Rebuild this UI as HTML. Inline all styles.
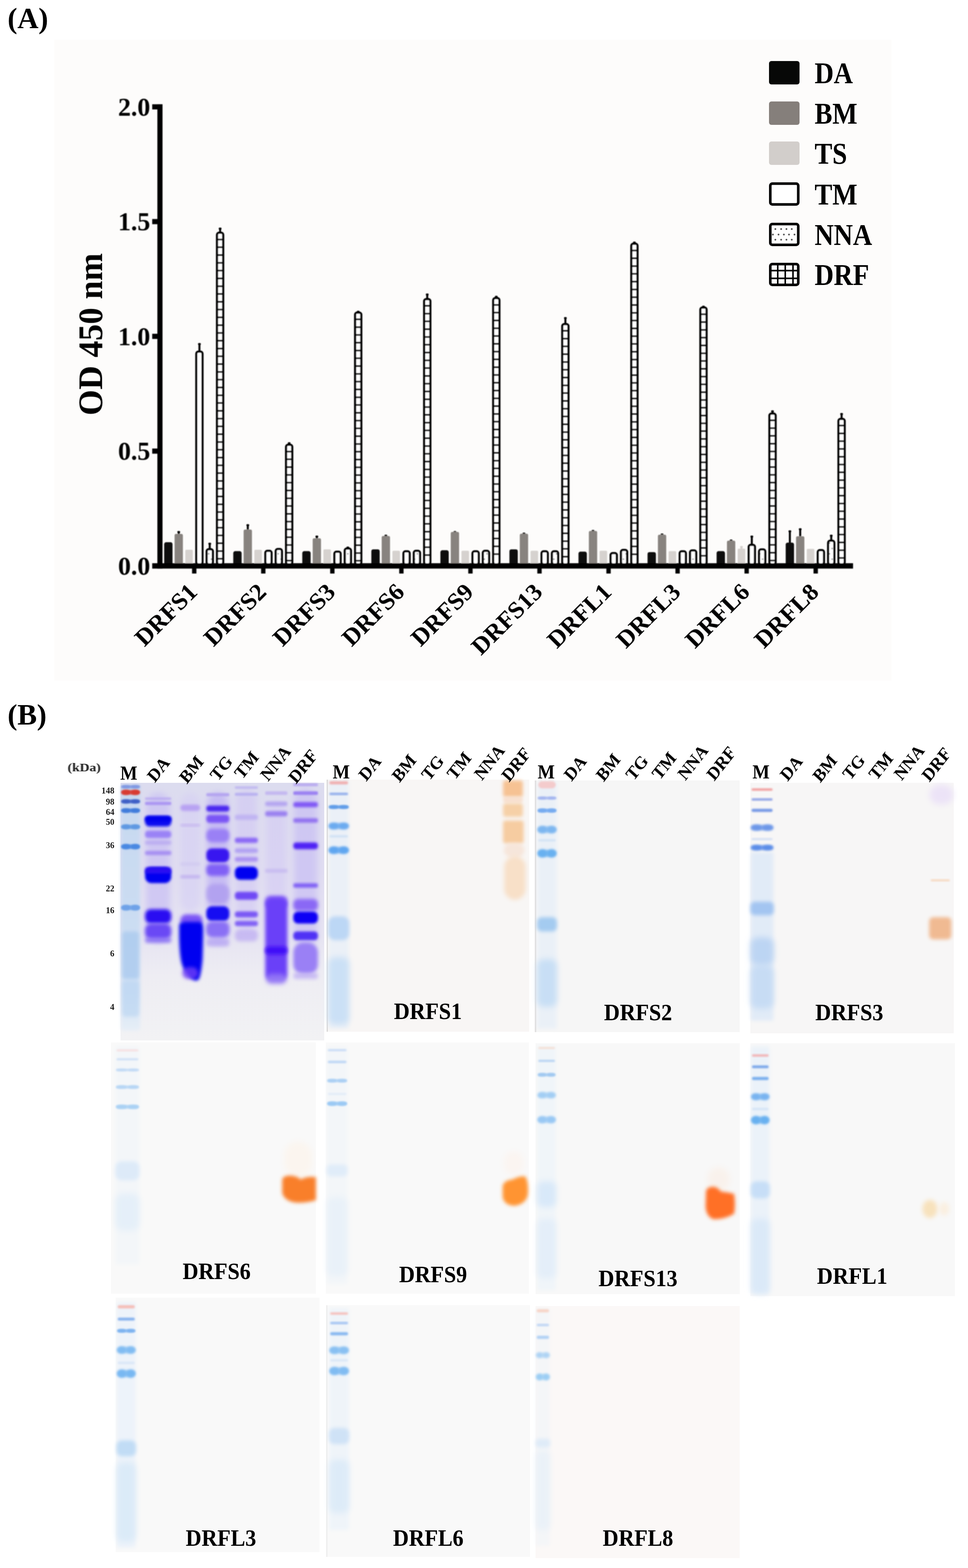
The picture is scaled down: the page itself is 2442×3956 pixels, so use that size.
<!DOCTYPE html>
<html><head><meta charset="utf-8"><title>Figure</title>
<style>html,body{margin:0;padding:0;background:#fff;} svg text{filter:url(#tsoft);} body{width:2442px;height:3956px;position:relative;overflow:hidden;}</style>
</head><body>
<svg width="2442" height="3956" viewBox="0 0 2442 3956" style="position:absolute;left:0;top:0">
<defs>
<filter id="soft" x="-5%" y="-5%" width="110%" height="110%"><feGaussianBlur stdDeviation="0.9"/></filter>
<filter id="tsoft" x="-20%" y="-20%" width="140%" height="140%"><feGaussianBlur stdDeviation="0.75"/></filter>
<pattern id="dots" width="13.5" height="27" patternUnits="userSpaceOnUse"><rect width="13.5" height="27" fill="#fff"/><circle cx="6.75" cy="6.75" r="1.8" fill="#777"/><circle cx="0" cy="20.25" r="1.8" fill="#777"/><circle cx="13.5" cy="20.25" r="1.8" fill="#777"/></pattern>
</defs>
<rect x="137" y="100" width="2112" height="1617" fill="#fdfcfb"/>
<g filter="url(#soft)">
<rect x="414.2" y="1368.0" width="21.0" height="59.0" rx="5" fill="#080808"/>
<rect x="448.4" y="1340.8" width="5" height="10.4" fill="#000"/>
<rect x="447.4" y="1339.8" width="7" height="5" rx="2" fill="#000"/>
<rect x="440.4" y="1347.1" width="21.0" height="79.9" rx="4" fill="#88837f"/>
<rect x="467.4" y="1387.1" width="19.0" height="39.9" rx="3" fill="#d6d2cf"/>
<rect x="500.6" y="866.5" width="5" height="21.9" fill="#000"/>
<rect x="499.6" y="865.5" width="7" height="5" rx="2" fill="#000"/>
<rect x="495.3" y="887.2" width="15.5" height="536.5" rx="5" fill="#fff" stroke="#000" stroke-width="5.5"/>
<rect x="526.6" y="1370.3" width="5" height="16.7" fill="#000"/>
<rect x="525.6" y="1369.3" width="7" height="5" rx="2" fill="#000"/>
<rect x="521.4" y="1385.8" width="15.5" height="38.0" rx="5" fill="url(#dots)" stroke="#000" stroke-width="5.5"/>
<rect x="552.8" y="575.3" width="5" height="13.3" fill="#000"/>
<rect x="551.8" y="574.3" width="7" height="5" rx="2" fill="#000"/>
<rect x="547.5" y="587.3" width="15.5" height="836.4" rx="5" fill="#fff" stroke="#000" stroke-width="5.5"/>
<rect x="546.8" y="602.0" width="17.0" height="4.4" fill="#000"/>
<rect x="546.8" y="621.6" width="17.0" height="4.4" fill="#000"/>
<rect x="546.8" y="641.3" width="17.0" height="4.4" fill="#000"/>
<rect x="546.8" y="660.9" width="17.0" height="4.4" fill="#000"/>
<rect x="546.8" y="680.6" width="17.0" height="4.4" fill="#000"/>
<rect x="546.8" y="700.2" width="17.0" height="4.4" fill="#000"/>
<rect x="546.8" y="719.9" width="17.0" height="4.4" fill="#000"/>
<rect x="546.8" y="739.5" width="17.0" height="4.4" fill="#000"/>
<rect x="546.8" y="759.2" width="17.0" height="4.4" fill="#000"/>
<rect x="546.8" y="778.8" width="17.0" height="4.4" fill="#000"/>
<rect x="546.8" y="798.5" width="17.0" height="4.4" fill="#000"/>
<rect x="546.8" y="818.1" width="17.0" height="4.4" fill="#000"/>
<rect x="546.8" y="837.8" width="17.0" height="4.4" fill="#000"/>
<rect x="546.8" y="857.4" width="17.0" height="4.4" fill="#000"/>
<rect x="546.8" y="877.1" width="17.0" height="4.4" fill="#000"/>
<rect x="546.8" y="896.7" width="17.0" height="4.4" fill="#000"/>
<rect x="546.8" y="916.4" width="17.0" height="4.4" fill="#000"/>
<rect x="546.8" y="936.0" width="17.0" height="4.4" fill="#000"/>
<rect x="546.8" y="955.7" width="17.0" height="4.4" fill="#000"/>
<rect x="546.8" y="975.3" width="17.0" height="4.4" fill="#000"/>
<rect x="546.8" y="995.0" width="17.0" height="4.4" fill="#000"/>
<rect x="546.8" y="1014.6" width="17.0" height="4.4" fill="#000"/>
<rect x="546.8" y="1034.3" width="17.0" height="4.4" fill="#000"/>
<rect x="546.8" y="1053.9" width="17.0" height="4.4" fill="#000"/>
<rect x="546.8" y="1073.6" width="17.0" height="4.4" fill="#000"/>
<rect x="546.8" y="1093.2" width="17.0" height="4.4" fill="#000"/>
<rect x="546.8" y="1112.9" width="17.0" height="4.4" fill="#000"/>
<rect x="546.8" y="1132.5" width="17.0" height="4.4" fill="#000"/>
<rect x="546.8" y="1152.2" width="17.0" height="4.4" fill="#000"/>
<rect x="546.8" y="1171.8" width="17.0" height="4.4" fill="#000"/>
<rect x="546.8" y="1191.5" width="17.0" height="4.4" fill="#000"/>
<rect x="546.8" y="1211.1" width="17.0" height="4.4" fill="#000"/>
<rect x="546.8" y="1230.8" width="17.0" height="4.4" fill="#000"/>
<rect x="546.8" y="1250.4" width="17.0" height="4.4" fill="#000"/>
<rect x="546.8" y="1270.1" width="17.0" height="4.4" fill="#000"/>
<rect x="546.8" y="1289.7" width="17.0" height="4.4" fill="#000"/>
<rect x="546.8" y="1309.4" width="17.0" height="4.4" fill="#000"/>
<rect x="546.8" y="1329.0" width="17.0" height="4.4" fill="#000"/>
<rect x="546.8" y="1348.7" width="17.0" height="4.4" fill="#000"/>
<rect x="546.8" y="1368.3" width="17.0" height="4.4" fill="#000"/>
<rect x="546.8" y="1388.0" width="17.0" height="4.4" fill="#000"/>
<rect x="546.8" y="1407.6" width="17.0" height="4.4" fill="#000"/>
<rect x="588.5" y="1390.5" width="21.0" height="36.5" rx="5" fill="#080808"/>
<rect x="622.6" y="1323.4" width="5" height="16.7" fill="#000"/>
<rect x="621.6" y="1322.4" width="7" height="5" rx="2" fill="#000"/>
<rect x="614.6" y="1336.1" width="21.0" height="90.9" rx="4" fill="#88837f"/>
<rect x="641.7" y="1387.1" width="19.0" height="39.9" rx="3" fill="#d6d2cf"/>
<rect x="669.5" y="1389.8" width="15.5" height="33.9" rx="5" fill="#fff" stroke="#000" stroke-width="5.5"/>
<rect x="695.6" y="1385.2" width="15.5" height="38.6" rx="5" fill="url(#dots)" stroke="#000" stroke-width="5.5"/>
<rect x="727.0" y="1116.7" width="5" height="6.9" fill="#000"/>
<rect x="726.0" y="1115.7" width="7" height="5" rx="2" fill="#000"/>
<rect x="721.7" y="1122.3" width="15.5" height="301.4" rx="5" fill="#fff" stroke="#000" stroke-width="5.5"/>
<rect x="721.0" y="1137.0" width="17.0" height="4.4" fill="#000"/>
<rect x="721.0" y="1156.6" width="17.0" height="4.4" fill="#000"/>
<rect x="721.0" y="1176.3" width="17.0" height="4.4" fill="#000"/>
<rect x="721.0" y="1195.9" width="17.0" height="4.4" fill="#000"/>
<rect x="721.0" y="1215.6" width="17.0" height="4.4" fill="#000"/>
<rect x="721.0" y="1235.2" width="17.0" height="4.4" fill="#000"/>
<rect x="721.0" y="1254.9" width="17.0" height="4.4" fill="#000"/>
<rect x="721.0" y="1274.5" width="17.0" height="4.4" fill="#000"/>
<rect x="721.0" y="1294.2" width="17.0" height="4.4" fill="#000"/>
<rect x="721.0" y="1313.8" width="17.0" height="4.4" fill="#000"/>
<rect x="721.0" y="1333.5" width="17.0" height="4.4" fill="#000"/>
<rect x="721.0" y="1353.1" width="17.0" height="4.4" fill="#000"/>
<rect x="721.0" y="1372.8" width="17.0" height="4.4" fill="#000"/>
<rect x="721.0" y="1392.4" width="17.0" height="4.4" fill="#000"/>
<rect x="721.0" y="1412.1" width="17.0" height="4.4" fill="#000"/>
<rect x="762.6" y="1390.5" width="21.0" height="36.5" rx="5" fill="#080808"/>
<rect x="796.8" y="1352.3" width="5" height="9.8" fill="#000"/>
<rect x="795.8" y="1351.3" width="7" height="5" rx="2" fill="#000"/>
<rect x="788.8" y="1358.1" width="21.0" height="68.9" rx="4" fill="#88837f"/>
<rect x="815.9" y="1385.9" width="19.0" height="41.1" rx="3" fill="#d6d2cf"/>
<rect x="843.7" y="1392.1" width="15.5" height="31.6" rx="5" fill="#fff" stroke="#000" stroke-width="5.5"/>
<rect x="875.0" y="1380.1" width="5" height="5.2" fill="#000"/>
<rect x="874.0" y="1379.1" width="7" height="5" rx="2" fill="#000"/>
<rect x="869.8" y="1384.0" width="15.5" height="39.7" rx="5" fill="url(#dots)" stroke="#000" stroke-width="5.5"/>
<rect x="901.1" y="784.9" width="5" height="5.2" fill="#000"/>
<rect x="900.1" y="783.9" width="7" height="5" rx="2" fill="#000"/>
<rect x="895.9" y="788.8" width="15.5" height="634.9" rx="5" fill="#fff" stroke="#000" stroke-width="5.5"/>
<rect x="895.1" y="803.5" width="17.0" height="4.4" fill="#000"/>
<rect x="895.1" y="823.1" width="17.0" height="4.4" fill="#000"/>
<rect x="895.1" y="842.8" width="17.0" height="4.4" fill="#000"/>
<rect x="895.1" y="862.4" width="17.0" height="4.4" fill="#000"/>
<rect x="895.1" y="882.1" width="17.0" height="4.4" fill="#000"/>
<rect x="895.1" y="901.7" width="17.0" height="4.4" fill="#000"/>
<rect x="895.1" y="921.4" width="17.0" height="4.4" fill="#000"/>
<rect x="895.1" y="941.0" width="17.0" height="4.4" fill="#000"/>
<rect x="895.1" y="960.7" width="17.0" height="4.4" fill="#000"/>
<rect x="895.1" y="980.3" width="17.0" height="4.4" fill="#000"/>
<rect x="895.1" y="1000.0" width="17.0" height="4.4" fill="#000"/>
<rect x="895.1" y="1019.6" width="17.0" height="4.4" fill="#000"/>
<rect x="895.1" y="1039.3" width="17.0" height="4.4" fill="#000"/>
<rect x="895.1" y="1058.9" width="17.0" height="4.4" fill="#000"/>
<rect x="895.1" y="1078.6" width="17.0" height="4.4" fill="#000"/>
<rect x="895.1" y="1098.2" width="17.0" height="4.4" fill="#000"/>
<rect x="895.1" y="1117.9" width="17.0" height="4.4" fill="#000"/>
<rect x="895.1" y="1137.5" width="17.0" height="4.4" fill="#000"/>
<rect x="895.1" y="1157.2" width="17.0" height="4.4" fill="#000"/>
<rect x="895.1" y="1176.8" width="17.0" height="4.4" fill="#000"/>
<rect x="895.1" y="1196.5" width="17.0" height="4.4" fill="#000"/>
<rect x="895.1" y="1216.1" width="17.0" height="4.4" fill="#000"/>
<rect x="895.1" y="1235.8" width="17.0" height="4.4" fill="#000"/>
<rect x="895.1" y="1255.4" width="17.0" height="4.4" fill="#000"/>
<rect x="895.1" y="1275.1" width="17.0" height="4.4" fill="#000"/>
<rect x="895.1" y="1294.7" width="17.0" height="4.4" fill="#000"/>
<rect x="895.1" y="1314.4" width="17.0" height="4.4" fill="#000"/>
<rect x="895.1" y="1334.0" width="17.0" height="4.4" fill="#000"/>
<rect x="895.1" y="1353.7" width="17.0" height="4.4" fill="#000"/>
<rect x="895.1" y="1373.3" width="17.0" height="4.4" fill="#000"/>
<rect x="895.1" y="1393.0" width="17.0" height="4.4" fill="#000"/>
<rect x="895.1" y="1412.6" width="17.0" height="4.4" fill="#000"/>
<rect x="936.8" y="1385.9" width="21.0" height="41.1" rx="5" fill="#080808"/>
<rect x="970.9" y="1350.0" width="5" height="6.3" fill="#000"/>
<rect x="969.9" y="1349.0" width="7" height="5" rx="2" fill="#000"/>
<rect x="962.9" y="1352.3" width="21.0" height="74.7" rx="4" fill="#88837f"/>
<rect x="990.0" y="1389.4" width="19.0" height="37.6" rx="3" fill="#d6d2cf"/>
<rect x="1017.9" y="1391.0" width="15.5" height="32.8" rx="5" fill="#fff" stroke="#000" stroke-width="5.5"/>
<rect x="1044.0" y="1389.8" width="15.5" height="33.9" rx="5" fill="url(#dots)" stroke="#000" stroke-width="5.5"/>
<rect x="1075.3" y="741.5" width="5" height="14.4" fill="#000"/>
<rect x="1074.3" y="740.5" width="7" height="5" rx="2" fill="#000"/>
<rect x="1070.1" y="754.7" width="15.5" height="669.1" rx="5" fill="#fff" stroke="#000" stroke-width="5.5"/>
<rect x="1069.3" y="769.3" width="17.0" height="4.4" fill="#000"/>
<rect x="1069.3" y="789.0" width="17.0" height="4.4" fill="#000"/>
<rect x="1069.3" y="808.6" width="17.0" height="4.4" fill="#000"/>
<rect x="1069.3" y="828.3" width="17.0" height="4.4" fill="#000"/>
<rect x="1069.3" y="847.9" width="17.0" height="4.4" fill="#000"/>
<rect x="1069.3" y="867.6" width="17.0" height="4.4" fill="#000"/>
<rect x="1069.3" y="887.2" width="17.0" height="4.4" fill="#000"/>
<rect x="1069.3" y="906.9" width="17.0" height="4.4" fill="#000"/>
<rect x="1069.3" y="926.5" width="17.0" height="4.4" fill="#000"/>
<rect x="1069.3" y="946.2" width="17.0" height="4.4" fill="#000"/>
<rect x="1069.3" y="965.8" width="17.0" height="4.4" fill="#000"/>
<rect x="1069.3" y="985.5" width="17.0" height="4.4" fill="#000"/>
<rect x="1069.3" y="1005.1" width="17.0" height="4.4" fill="#000"/>
<rect x="1069.3" y="1024.8" width="17.0" height="4.4" fill="#000"/>
<rect x="1069.3" y="1044.4" width="17.0" height="4.4" fill="#000"/>
<rect x="1069.3" y="1064.1" width="17.0" height="4.4" fill="#000"/>
<rect x="1069.3" y="1083.7" width="17.0" height="4.4" fill="#000"/>
<rect x="1069.3" y="1103.4" width="17.0" height="4.4" fill="#000"/>
<rect x="1069.3" y="1123.0" width="17.0" height="4.4" fill="#000"/>
<rect x="1069.3" y="1142.7" width="17.0" height="4.4" fill="#000"/>
<rect x="1069.3" y="1162.3" width="17.0" height="4.4" fill="#000"/>
<rect x="1069.3" y="1182.0" width="17.0" height="4.4" fill="#000"/>
<rect x="1069.3" y="1201.6" width="17.0" height="4.4" fill="#000"/>
<rect x="1069.3" y="1221.3" width="17.0" height="4.4" fill="#000"/>
<rect x="1069.3" y="1240.9" width="17.0" height="4.4" fill="#000"/>
<rect x="1069.3" y="1260.6" width="17.0" height="4.4" fill="#000"/>
<rect x="1069.3" y="1280.2" width="17.0" height="4.4" fill="#000"/>
<rect x="1069.3" y="1299.9" width="17.0" height="4.4" fill="#000"/>
<rect x="1069.3" y="1319.5" width="17.0" height="4.4" fill="#000"/>
<rect x="1069.3" y="1339.2" width="17.0" height="4.4" fill="#000"/>
<rect x="1069.3" y="1358.8" width="17.0" height="4.4" fill="#000"/>
<rect x="1069.3" y="1378.5" width="17.0" height="4.4" fill="#000"/>
<rect x="1069.3" y="1398.1" width="17.0" height="4.4" fill="#000"/>
<rect x="1111.0" y="1388.2" width="21.0" height="38.8" rx="5" fill="#080808"/>
<rect x="1145.1" y="1340.8" width="5" height="5.2" fill="#000"/>
<rect x="1144.1" y="1339.8" width="7" height="5" rx="2" fill="#000"/>
<rect x="1137.1" y="1341.9" width="21.0" height="85.1" rx="4" fill="#88837f"/>
<rect x="1164.2" y="1389.4" width="19.0" height="37.6" rx="3" fill="#d6d2cf"/>
<rect x="1192.1" y="1391.0" width="15.5" height="32.8" rx="5" fill="#fff" stroke="#000" stroke-width="5.5"/>
<rect x="1218.2" y="1389.8" width="15.5" height="33.9" rx="5" fill="url(#dots)" stroke="#000" stroke-width="5.5"/>
<rect x="1249.5" y="747.3" width="5" height="6.3" fill="#000"/>
<rect x="1248.5" y="746.3" width="7" height="5" rx="2" fill="#000"/>
<rect x="1244.3" y="752.3" width="15.5" height="671.4" rx="5" fill="#fff" stroke="#000" stroke-width="5.5"/>
<rect x="1243.5" y="767.0" width="17.0" height="4.4" fill="#000"/>
<rect x="1243.5" y="786.6" width="17.0" height="4.4" fill="#000"/>
<rect x="1243.5" y="806.3" width="17.0" height="4.4" fill="#000"/>
<rect x="1243.5" y="825.9" width="17.0" height="4.4" fill="#000"/>
<rect x="1243.5" y="845.6" width="17.0" height="4.4" fill="#000"/>
<rect x="1243.5" y="865.2" width="17.0" height="4.4" fill="#000"/>
<rect x="1243.5" y="884.9" width="17.0" height="4.4" fill="#000"/>
<rect x="1243.5" y="904.5" width="17.0" height="4.4" fill="#000"/>
<rect x="1243.5" y="924.2" width="17.0" height="4.4" fill="#000"/>
<rect x="1243.5" y="943.8" width="17.0" height="4.4" fill="#000"/>
<rect x="1243.5" y="963.5" width="17.0" height="4.4" fill="#000"/>
<rect x="1243.5" y="983.1" width="17.0" height="4.4" fill="#000"/>
<rect x="1243.5" y="1002.8" width="17.0" height="4.4" fill="#000"/>
<rect x="1243.5" y="1022.4" width="17.0" height="4.4" fill="#000"/>
<rect x="1243.5" y="1042.1" width="17.0" height="4.4" fill="#000"/>
<rect x="1243.5" y="1061.7" width="17.0" height="4.4" fill="#000"/>
<rect x="1243.5" y="1081.4" width="17.0" height="4.4" fill="#000"/>
<rect x="1243.5" y="1101.0" width="17.0" height="4.4" fill="#000"/>
<rect x="1243.5" y="1120.7" width="17.0" height="4.4" fill="#000"/>
<rect x="1243.5" y="1140.3" width="17.0" height="4.4" fill="#000"/>
<rect x="1243.5" y="1160.0" width="17.0" height="4.4" fill="#000"/>
<rect x="1243.5" y="1179.6" width="17.0" height="4.4" fill="#000"/>
<rect x="1243.5" y="1199.3" width="17.0" height="4.4" fill="#000"/>
<rect x="1243.5" y="1218.9" width="17.0" height="4.4" fill="#000"/>
<rect x="1243.5" y="1238.6" width="17.0" height="4.4" fill="#000"/>
<rect x="1243.5" y="1258.2" width="17.0" height="4.4" fill="#000"/>
<rect x="1243.5" y="1277.9" width="17.0" height="4.4" fill="#000"/>
<rect x="1243.5" y="1297.5" width="17.0" height="4.4" fill="#000"/>
<rect x="1243.5" y="1317.2" width="17.0" height="4.4" fill="#000"/>
<rect x="1243.5" y="1336.8" width="17.0" height="4.4" fill="#000"/>
<rect x="1243.5" y="1356.5" width="17.0" height="4.4" fill="#000"/>
<rect x="1243.5" y="1376.1" width="17.0" height="4.4" fill="#000"/>
<rect x="1243.5" y="1395.8" width="17.0" height="4.4" fill="#000"/>
<rect x="1285.2" y="1385.9" width="21.0" height="41.1" rx="5" fill="#080808"/>
<rect x="1319.3" y="1344.8" width="5" height="5.7" fill="#000"/>
<rect x="1318.3" y="1343.8" width="7" height="5" rx="2" fill="#000"/>
<rect x="1311.3" y="1346.5" width="21.0" height="80.5" rx="4" fill="#88837f"/>
<rect x="1338.5" y="1389.4" width="19.0" height="37.6" rx="3" fill="#d6d2cf"/>
<rect x="1366.3" y="1391.0" width="15.5" height="32.8" rx="5" fill="#fff" stroke="#000" stroke-width="5.5"/>
<rect x="1392.4" y="1391.0" width="15.5" height="32.8" rx="5" fill="url(#dots)" stroke="#000" stroke-width="5.5"/>
<rect x="1423.8" y="801.1" width="5" height="17.9" fill="#000"/>
<rect x="1422.8" y="800.1" width="7" height="5" rx="2" fill="#000"/>
<rect x="1418.5" y="817.8" width="15.5" height="606.0" rx="5" fill="#fff" stroke="#000" stroke-width="5.5"/>
<rect x="1417.8" y="832.4" width="17.0" height="4.4" fill="#000"/>
<rect x="1417.8" y="852.1" width="17.0" height="4.4" fill="#000"/>
<rect x="1417.8" y="871.7" width="17.0" height="4.4" fill="#000"/>
<rect x="1417.8" y="891.4" width="17.0" height="4.4" fill="#000"/>
<rect x="1417.8" y="911.0" width="17.0" height="4.4" fill="#000"/>
<rect x="1417.8" y="930.7" width="17.0" height="4.4" fill="#000"/>
<rect x="1417.8" y="950.3" width="17.0" height="4.4" fill="#000"/>
<rect x="1417.8" y="970.0" width="17.0" height="4.4" fill="#000"/>
<rect x="1417.8" y="989.6" width="17.0" height="4.4" fill="#000"/>
<rect x="1417.8" y="1009.3" width="17.0" height="4.4" fill="#000"/>
<rect x="1417.8" y="1028.9" width="17.0" height="4.4" fill="#000"/>
<rect x="1417.8" y="1048.6" width="17.0" height="4.4" fill="#000"/>
<rect x="1417.8" y="1068.2" width="17.0" height="4.4" fill="#000"/>
<rect x="1417.8" y="1087.9" width="17.0" height="4.4" fill="#000"/>
<rect x="1417.8" y="1107.5" width="17.0" height="4.4" fill="#000"/>
<rect x="1417.8" y="1127.2" width="17.0" height="4.4" fill="#000"/>
<rect x="1417.8" y="1146.8" width="17.0" height="4.4" fill="#000"/>
<rect x="1417.8" y="1166.5" width="17.0" height="4.4" fill="#000"/>
<rect x="1417.8" y="1186.1" width="17.0" height="4.4" fill="#000"/>
<rect x="1417.8" y="1205.8" width="17.0" height="4.4" fill="#000"/>
<rect x="1417.8" y="1225.4" width="17.0" height="4.4" fill="#000"/>
<rect x="1417.8" y="1245.1" width="17.0" height="4.4" fill="#000"/>
<rect x="1417.8" y="1264.7" width="17.0" height="4.4" fill="#000"/>
<rect x="1417.8" y="1284.4" width="17.0" height="4.4" fill="#000"/>
<rect x="1417.8" y="1304.0" width="17.0" height="4.4" fill="#000"/>
<rect x="1417.8" y="1323.7" width="17.0" height="4.4" fill="#000"/>
<rect x="1417.8" y="1343.3" width="17.0" height="4.4" fill="#000"/>
<rect x="1417.8" y="1363.0" width="17.0" height="4.4" fill="#000"/>
<rect x="1417.8" y="1382.6" width="17.0" height="4.4" fill="#000"/>
<rect x="1417.8" y="1402.3" width="17.0" height="4.4" fill="#000"/>
<rect x="1459.4" y="1391.7" width="21.0" height="35.3" rx="5" fill="#080808"/>
<rect x="1493.5" y="1337.9" width="5" height="5.7" fill="#000"/>
<rect x="1492.5" y="1336.9" width="7" height="5" rx="2" fill="#000"/>
<rect x="1485.5" y="1339.6" width="21.0" height="87.4" rx="4" fill="#88837f"/>
<rect x="1512.6" y="1389.4" width="19.0" height="37.6" rx="3" fill="#d6d2cf"/>
<rect x="1540.5" y="1395.6" width="15.5" height="28.1" rx="5" fill="#fff" stroke="#000" stroke-width="5.5"/>
<rect x="1566.6" y="1387.5" width="15.5" height="36.2" rx="5" fill="url(#dots)" stroke="#000" stroke-width="5.5"/>
<rect x="1597.9" y="610.6" width="5" height="5.7" fill="#000"/>
<rect x="1596.9" y="609.6" width="7" height="5" rx="2" fill="#000"/>
<rect x="1592.7" y="615.1" width="15.5" height="808.6" rx="5" fill="#fff" stroke="#000" stroke-width="5.5"/>
<rect x="1591.9" y="629.8" width="17.0" height="4.4" fill="#000"/>
<rect x="1591.9" y="649.4" width="17.0" height="4.4" fill="#000"/>
<rect x="1591.9" y="669.1" width="17.0" height="4.4" fill="#000"/>
<rect x="1591.9" y="688.7" width="17.0" height="4.4" fill="#000"/>
<rect x="1591.9" y="708.4" width="17.0" height="4.4" fill="#000"/>
<rect x="1591.9" y="728.0" width="17.0" height="4.4" fill="#000"/>
<rect x="1591.9" y="747.7" width="17.0" height="4.4" fill="#000"/>
<rect x="1591.9" y="767.3" width="17.0" height="4.4" fill="#000"/>
<rect x="1591.9" y="787.0" width="17.0" height="4.4" fill="#000"/>
<rect x="1591.9" y="806.6" width="17.0" height="4.4" fill="#000"/>
<rect x="1591.9" y="826.3" width="17.0" height="4.4" fill="#000"/>
<rect x="1591.9" y="845.9" width="17.0" height="4.4" fill="#000"/>
<rect x="1591.9" y="865.6" width="17.0" height="4.4" fill="#000"/>
<rect x="1591.9" y="885.2" width="17.0" height="4.4" fill="#000"/>
<rect x="1591.9" y="904.9" width="17.0" height="4.4" fill="#000"/>
<rect x="1591.9" y="924.5" width="17.0" height="4.4" fill="#000"/>
<rect x="1591.9" y="944.2" width="17.0" height="4.4" fill="#000"/>
<rect x="1591.9" y="963.8" width="17.0" height="4.4" fill="#000"/>
<rect x="1591.9" y="983.5" width="17.0" height="4.4" fill="#000"/>
<rect x="1591.9" y="1003.1" width="17.0" height="4.4" fill="#000"/>
<rect x="1591.9" y="1022.8" width="17.0" height="4.4" fill="#000"/>
<rect x="1591.9" y="1042.4" width="17.0" height="4.4" fill="#000"/>
<rect x="1591.9" y="1062.1" width="17.0" height="4.4" fill="#000"/>
<rect x="1591.9" y="1081.7" width="17.0" height="4.4" fill="#000"/>
<rect x="1591.9" y="1101.4" width="17.0" height="4.4" fill="#000"/>
<rect x="1591.9" y="1121.0" width="17.0" height="4.4" fill="#000"/>
<rect x="1591.9" y="1140.7" width="17.0" height="4.4" fill="#000"/>
<rect x="1591.9" y="1160.3" width="17.0" height="4.4" fill="#000"/>
<rect x="1591.9" y="1180.0" width="17.0" height="4.4" fill="#000"/>
<rect x="1591.9" y="1199.6" width="17.0" height="4.4" fill="#000"/>
<rect x="1591.9" y="1219.3" width="17.0" height="4.4" fill="#000"/>
<rect x="1591.9" y="1238.9" width="17.0" height="4.4" fill="#000"/>
<rect x="1591.9" y="1258.6" width="17.0" height="4.4" fill="#000"/>
<rect x="1591.9" y="1278.2" width="17.0" height="4.4" fill="#000"/>
<rect x="1591.9" y="1297.9" width="17.0" height="4.4" fill="#000"/>
<rect x="1591.9" y="1317.5" width="17.0" height="4.4" fill="#000"/>
<rect x="1591.9" y="1337.2" width="17.0" height="4.4" fill="#000"/>
<rect x="1591.9" y="1356.8" width="17.0" height="4.4" fill="#000"/>
<rect x="1591.9" y="1376.5" width="17.0" height="4.4" fill="#000"/>
<rect x="1591.9" y="1396.1" width="17.0" height="4.4" fill="#000"/>
<rect x="1633.6" y="1392.9" width="21.0" height="34.1" rx="5" fill="#080808"/>
<rect x="1667.7" y="1347.1" width="5" height="5.7" fill="#000"/>
<rect x="1666.7" y="1346.1" width="7" height="5" rx="2" fill="#000"/>
<rect x="1659.7" y="1348.9" width="21.0" height="78.1" rx="4" fill="#88837f"/>
<rect x="1686.8" y="1390.5" width="19.0" height="36.5" rx="3" fill="#d6d2cf"/>
<rect x="1714.7" y="1391.0" width="15.5" height="32.8" rx="5" fill="#fff" stroke="#000" stroke-width="5.5"/>
<rect x="1740.8" y="1388.7" width="15.5" height="35.1" rx="5" fill="url(#dots)" stroke="#000" stroke-width="5.5"/>
<rect x="1772.1" y="772.2" width="5" height="5.2" fill="#000"/>
<rect x="1771.1" y="771.2" width="7" height="5" rx="2" fill="#000"/>
<rect x="1766.9" y="776.1" width="15.5" height="647.7" rx="5" fill="#fff" stroke="#000" stroke-width="5.5"/>
<rect x="1766.1" y="790.7" width="17.0" height="4.4" fill="#000"/>
<rect x="1766.1" y="810.4" width="17.0" height="4.4" fill="#000"/>
<rect x="1766.1" y="830.0" width="17.0" height="4.4" fill="#000"/>
<rect x="1766.1" y="849.7" width="17.0" height="4.4" fill="#000"/>
<rect x="1766.1" y="869.3" width="17.0" height="4.4" fill="#000"/>
<rect x="1766.1" y="889.0" width="17.0" height="4.4" fill="#000"/>
<rect x="1766.1" y="908.6" width="17.0" height="4.4" fill="#000"/>
<rect x="1766.1" y="928.3" width="17.0" height="4.4" fill="#000"/>
<rect x="1766.1" y="947.9" width="17.0" height="4.4" fill="#000"/>
<rect x="1766.1" y="967.6" width="17.0" height="4.4" fill="#000"/>
<rect x="1766.1" y="987.2" width="17.0" height="4.4" fill="#000"/>
<rect x="1766.1" y="1006.9" width="17.0" height="4.4" fill="#000"/>
<rect x="1766.1" y="1026.5" width="17.0" height="4.4" fill="#000"/>
<rect x="1766.1" y="1046.2" width="17.0" height="4.4" fill="#000"/>
<rect x="1766.1" y="1065.8" width="17.0" height="4.4" fill="#000"/>
<rect x="1766.1" y="1085.5" width="17.0" height="4.4" fill="#000"/>
<rect x="1766.1" y="1105.1" width="17.0" height="4.4" fill="#000"/>
<rect x="1766.1" y="1124.8" width="17.0" height="4.4" fill="#000"/>
<rect x="1766.1" y="1144.4" width="17.0" height="4.4" fill="#000"/>
<rect x="1766.1" y="1164.1" width="17.0" height="4.4" fill="#000"/>
<rect x="1766.1" y="1183.7" width="17.0" height="4.4" fill="#000"/>
<rect x="1766.1" y="1203.4" width="17.0" height="4.4" fill="#000"/>
<rect x="1766.1" y="1223.0" width="17.0" height="4.4" fill="#000"/>
<rect x="1766.1" y="1242.7" width="17.0" height="4.4" fill="#000"/>
<rect x="1766.1" y="1262.3" width="17.0" height="4.4" fill="#000"/>
<rect x="1766.1" y="1282.0" width="17.0" height="4.4" fill="#000"/>
<rect x="1766.1" y="1301.6" width="17.0" height="4.4" fill="#000"/>
<rect x="1766.1" y="1321.3" width="17.0" height="4.4" fill="#000"/>
<rect x="1766.1" y="1340.9" width="17.0" height="4.4" fill="#000"/>
<rect x="1766.1" y="1360.6" width="17.0" height="4.4" fill="#000"/>
<rect x="1766.1" y="1380.2" width="17.0" height="4.4" fill="#000"/>
<rect x="1766.1" y="1399.9" width="17.0" height="4.4" fill="#000"/>
<rect x="1807.8" y="1390.5" width="21.0" height="36.5" rx="5" fill="#080808"/>
<rect x="1841.9" y="1362.2" width="5" height="5.7" fill="#000"/>
<rect x="1840.9" y="1361.2" width="7" height="5" rx="2" fill="#000"/>
<rect x="1833.9" y="1363.9" width="21.0" height="63.1" rx="4" fill="#88837f"/>
<rect x="1868.0" y="1378.4" width="5" height="9.8" fill="#d6d2cf"/>
<rect x="1867.0" y="1377.4" width="7" height="5" rx="2" fill="#d6d2cf"/>
<rect x="1861.0" y="1384.2" width="19.0" height="42.8" rx="3" fill="#d6d2cf"/>
<rect x="1894.1" y="1352.3" width="5" height="23.7" fill="#000"/>
<rect x="1893.1" y="1351.3" width="7" height="5" rx="2" fill="#000"/>
<rect x="1888.9" y="1374.8" width="15.5" height="49.0" rx="5" fill="#fff" stroke="#000" stroke-width="5.5"/>
<rect x="1915.0" y="1386.3" width="15.5" height="37.4" rx="5" fill="url(#dots)" stroke="#000" stroke-width="5.5"/>
<rect x="1946.3" y="1036.2" width="5" height="8.6" fill="#000"/>
<rect x="1945.3" y="1035.2" width="7" height="5" rx="2" fill="#000"/>
<rect x="1941.1" y="1043.6" width="15.5" height="380.2" rx="5" fill="#fff" stroke="#000" stroke-width="5.5"/>
<rect x="1940.3" y="1058.2" width="17.0" height="4.4" fill="#000"/>
<rect x="1940.3" y="1077.9" width="17.0" height="4.4" fill="#000"/>
<rect x="1940.3" y="1097.5" width="17.0" height="4.4" fill="#000"/>
<rect x="1940.3" y="1117.2" width="17.0" height="4.4" fill="#000"/>
<rect x="1940.3" y="1136.8" width="17.0" height="4.4" fill="#000"/>
<rect x="1940.3" y="1156.5" width="17.0" height="4.4" fill="#000"/>
<rect x="1940.3" y="1176.1" width="17.0" height="4.4" fill="#000"/>
<rect x="1940.3" y="1195.8" width="17.0" height="4.4" fill="#000"/>
<rect x="1940.3" y="1215.4" width="17.0" height="4.4" fill="#000"/>
<rect x="1940.3" y="1235.1" width="17.0" height="4.4" fill="#000"/>
<rect x="1940.3" y="1254.7" width="17.0" height="4.4" fill="#000"/>
<rect x="1940.3" y="1274.4" width="17.0" height="4.4" fill="#000"/>
<rect x="1940.3" y="1294.0" width="17.0" height="4.4" fill="#000"/>
<rect x="1940.3" y="1313.7" width="17.0" height="4.4" fill="#000"/>
<rect x="1940.3" y="1333.3" width="17.0" height="4.4" fill="#000"/>
<rect x="1940.3" y="1353.0" width="17.0" height="4.4" fill="#000"/>
<rect x="1940.3" y="1372.6" width="17.0" height="4.4" fill="#000"/>
<rect x="1940.3" y="1392.3" width="17.0" height="4.4" fill="#000"/>
<rect x="1940.3" y="1411.9" width="17.0" height="4.4" fill="#000"/>
<rect x="1990.1" y="1339.0" width="5" height="34.1" fill="#000"/>
<rect x="1989.1" y="1338.0" width="7" height="5" rx="2" fill="#000"/>
<rect x="1982.1" y="1369.1" width="21.0" height="57.9" rx="5" fill="#080808"/>
<rect x="2016.2" y="1333.8" width="5" height="23.1" fill="#000"/>
<rect x="2015.2" y="1332.8" width="7" height="5" rx="2" fill="#000"/>
<rect x="2008.2" y="1352.9" width="21.0" height="74.1" rx="4" fill="#88837f"/>
<rect x="2035.3" y="1384.8" width="19.0" height="42.2" rx="3" fill="#d6d2cf"/>
<rect x="2063.1" y="1388.1" width="15.5" height="35.7" rx="5" fill="#fff" stroke="#000" stroke-width="5.5"/>
<rect x="2094.5" y="1350.0" width="5" height="15.6" fill="#000"/>
<rect x="2093.5" y="1349.0" width="7" height="5" rx="2" fill="#000"/>
<rect x="2089.2" y="1364.3" width="15.5" height="59.4" rx="5" fill="url(#dots)" stroke="#000" stroke-width="5.5"/>
<rect x="2120.6" y="1043.1" width="5" height="15.0" fill="#000"/>
<rect x="2119.6" y="1042.1" width="7" height="5" rx="2" fill="#000"/>
<rect x="2115.3" y="1056.9" width="15.5" height="366.9" rx="5" fill="#fff" stroke="#000" stroke-width="5.5"/>
<rect x="2114.6" y="1071.5" width="17.0" height="4.4" fill="#000"/>
<rect x="2114.6" y="1091.2" width="17.0" height="4.4" fill="#000"/>
<rect x="2114.6" y="1110.8" width="17.0" height="4.4" fill="#000"/>
<rect x="2114.6" y="1130.5" width="17.0" height="4.4" fill="#000"/>
<rect x="2114.6" y="1150.1" width="17.0" height="4.4" fill="#000"/>
<rect x="2114.6" y="1169.8" width="17.0" height="4.4" fill="#000"/>
<rect x="2114.6" y="1189.4" width="17.0" height="4.4" fill="#000"/>
<rect x="2114.6" y="1209.1" width="17.0" height="4.4" fill="#000"/>
<rect x="2114.6" y="1228.7" width="17.0" height="4.4" fill="#000"/>
<rect x="2114.6" y="1248.4" width="17.0" height="4.4" fill="#000"/>
<rect x="2114.6" y="1268.0" width="17.0" height="4.4" fill="#000"/>
<rect x="2114.6" y="1287.7" width="17.0" height="4.4" fill="#000"/>
<rect x="2114.6" y="1307.3" width="17.0" height="4.4" fill="#000"/>
<rect x="2114.6" y="1327.0" width="17.0" height="4.4" fill="#000"/>
<rect x="2114.6" y="1346.6" width="17.0" height="4.4" fill="#000"/>
<rect x="2114.6" y="1366.3" width="17.0" height="4.4" fill="#000"/>
<rect x="2114.6" y="1385.9" width="17.0" height="4.4" fill="#000"/>
<rect x="2114.6" y="1405.6" width="17.0" height="4.4" fill="#000"/>
<rect x="397" y="263" width="13" height="1171.5" fill="#000"/>
<rect x="384" y="1421" width="1768" height="13.5" fill="#000"/>
<rect x="384" y="1421.1" width="16" height="13" fill="#000"/>
<text x="379" y="1449.6" text-anchor="end" font-family="'Liberation Serif','Times New Roman',serif" font-weight="bold" font-size="65">0.0</text>
<rect x="384" y="1131.6" width="16" height="13" fill="#000"/>
<text x="379" y="1160.1" text-anchor="end" font-family="'Liberation Serif','Times New Roman',serif" font-weight="bold" font-size="65">0.5</text>
<rect x="384" y="842.1" width="16" height="13" fill="#000"/>
<text x="379" y="870.6" text-anchor="end" font-family="'Liberation Serif','Times New Roman',serif" font-weight="bold" font-size="65">1.0</text>
<rect x="384" y="552.6" width="16" height="13" fill="#000"/>
<text x="379" y="581.1" text-anchor="end" font-family="'Liberation Serif','Times New Roman',serif" font-weight="bold" font-size="65">1.5</text>
<rect x="384" y="263.1" width="16" height="13" fill="#000"/>
<text x="379" y="291.6" text-anchor="end" font-family="'Liberation Serif','Times New Roman',serif" font-weight="bold" font-size="65">2.0</text>
<rect x="484.5" y="1430" width="11" height="17" fill="#000"/>
<rect x="658.7" y="1430" width="11" height="17" fill="#000"/>
<rect x="832.9" y="1430" width="11" height="17" fill="#000"/>
<rect x="1007.1" y="1430" width="11" height="17" fill="#000"/>
<rect x="1181.3" y="1430" width="11" height="17" fill="#000"/>
<rect x="1355.5" y="1430" width="11" height="17" fill="#000"/>
<rect x="1529.7" y="1430" width="11" height="17" fill="#000"/>
<rect x="1703.9" y="1430" width="11" height="17" fill="#000"/>
<rect x="1878.1" y="1430" width="11" height="17" fill="#000"/>
<rect x="2052.3" y="1430" width="11" height="17" fill="#000"/>
</g>
<text transform="translate(501.0,1497) rotate(-45)" text-anchor="end" font-family="'Liberation Serif','Times New Roman',serif" font-weight="bold" font-size="62">DRFS1</text>
<text transform="translate(675.2,1497) rotate(-45)" text-anchor="end" font-family="'Liberation Serif','Times New Roman',serif" font-weight="bold" font-size="62">DRFS2</text>
<text transform="translate(849.4,1497) rotate(-45)" text-anchor="end" font-family="'Liberation Serif','Times New Roman',serif" font-weight="bold" font-size="62">DRFS3</text>
<text transform="translate(1023.6,1497) rotate(-45)" text-anchor="end" font-family="'Liberation Serif','Times New Roman',serif" font-weight="bold" font-size="62">DRFS6</text>
<text transform="translate(1197.8,1497) rotate(-45)" text-anchor="end" font-family="'Liberation Serif','Times New Roman',serif" font-weight="bold" font-size="62">DRFS9</text>
<text transform="translate(1372.0,1497) rotate(-45)" text-anchor="end" font-family="'Liberation Serif','Times New Roman',serif" font-weight="bold" font-size="62">DRFS13</text>
<text transform="translate(1546.2,1497) rotate(-45)" text-anchor="end" font-family="'Liberation Serif','Times New Roman',serif" font-weight="bold" font-size="62">DRFL1</text>
<text transform="translate(1720.4,1497) rotate(-45)" text-anchor="end" font-family="'Liberation Serif','Times New Roman',serif" font-weight="bold" font-size="62">DRFL3</text>
<text transform="translate(1894.6,1497) rotate(-45)" text-anchor="end" font-family="'Liberation Serif','Times New Roman',serif" font-weight="bold" font-size="62">DRFL6</text>
<text transform="translate(2068.8,1497) rotate(-45)" text-anchor="end" font-family="'Liberation Serif','Times New Roman',serif" font-weight="bold" font-size="62">DRFL8</text>
<text transform="translate(257.5,843.5) rotate(-90) scale(0.963,1)" text-anchor="middle" font-family="'Liberation Serif','Times New Roman',serif" font-weight="bold" font-size="87">OD 450 nm</text>
<rect x="1940" y="154" width="77" height="59" rx="6" fill="#070807"/>
<text transform="translate(2055,210) scale(0.87,1)" font-family="'Liberation Serif','Times New Roman',serif" font-weight="bold" font-size="77">DA</text>
<rect x="1940" y="256" width="77" height="59" rx="6" fill="#857f7b"/>
<text transform="translate(2055,312) scale(0.87,1)" font-family="'Liberation Serif','Times New Roman',serif" font-weight="bold" font-size="77">BM</text>
<rect x="1940" y="357" width="77" height="59" rx="6" fill="#d2cecb"/>
<text transform="translate(2055,413) scale(0.87,1)" font-family="'Liberation Serif','Times New Roman',serif" font-weight="bold" font-size="77">TS</text>
<rect x="1943.25" y="463.25" width="70.5" height="52.5" rx="5" fill="#fff" stroke="#000" stroke-width="6.5"/>
<text transform="translate(2055,516) scale(0.87,1)" font-family="'Liberation Serif','Times New Roman',serif" font-weight="bold" font-size="77">TM</text>
<rect x="1943.25" y="565.25" width="70.5" height="52.5" rx="5" fill="#fff" stroke="#000" stroke-width="6.5"/>
<circle cx="1956" cy="577.9" r="2.3" fill="#555"/>
<circle cx="1970.6" cy="577.9" r="2.3" fill="#555"/>
<circle cx="1984" cy="577.9" r="2.3" fill="#555"/>
<circle cx="1997.4" cy="577.9" r="2.3" fill="#555"/>
<circle cx="1949.8" cy="591.8" r="2.3" fill="#555"/>
<circle cx="1964" cy="591.8" r="2.3" fill="#555"/>
<circle cx="1977.5" cy="591.8" r="2.3" fill="#555"/>
<circle cx="1990.4" cy="591.8" r="2.3" fill="#555"/>
<circle cx="2004.3" cy="591.8" r="2.3" fill="#555"/>
<circle cx="1956" cy="604.7" r="2.3" fill="#555"/>
<circle cx="1970.6" cy="604.7" r="2.3" fill="#555"/>
<circle cx="1984" cy="604.7" r="2.3" fill="#555"/>
<circle cx="1997.4" cy="604.7" r="2.3" fill="#555"/>
<text transform="translate(2055,618) scale(0.87,1)" font-family="'Liberation Serif','Times New Roman',serif" font-weight="bold" font-size="77">NNA</text>
<rect x="1943.25" y="666.25" width="70.5" height="52.5" rx="5" fill="#fff" stroke="#000" stroke-width="6.5"/>
<rect x="1960.0" y="666" width="4" height="53" fill="#000"/>
<rect x="1979.0" y="666" width="4" height="53" fill="#000"/>
<rect x="1998.5" y="666" width="4" height="53" fill="#000"/>
<rect x="1943" y="680.7" width="71" height="4" fill="#000"/>
<rect x="1943" y="700.3" width="71" height="4" fill="#000"/>
<text transform="translate(2055,719) scale(0.87,1)" font-family="'Liberation Serif','Times New Roman',serif" font-weight="bold" font-size="77">DRF</text>
<text x="19" y="71.4" font-family="'Liberation Serif','Times New Roman',serif" font-weight="bold" font-size="74">(A)</text>
<text x="19" y="1828" font-family="'Liberation Serif','Times New Roman',serif" font-weight="bold" font-size="74">(B)</text>
<defs><filter id="b1" x="-50%" y="-50%" width="200%" height="200%"><feGaussianBlur stdDeviation="1"/></filter><filter id="b2" x="-50%" y="-50%" width="200%" height="200%"><feGaussianBlur stdDeviation="2"/></filter><filter id="b3" x="-50%" y="-50%" width="200%" height="200%"><feGaussianBlur stdDeviation="3"/></filter><filter id="b4" x="-50%" y="-50%" width="200%" height="200%"><feGaussianBlur stdDeviation="4"/></filter><filter id="b5" x="-50%" y="-50%" width="200%" height="200%"><feGaussianBlur stdDeviation="5"/></filter><filter id="b6" x="-50%" y="-50%" width="200%" height="200%"><feGaussianBlur stdDeviation="6"/></filter><filter id="b8" x="-50%" y="-50%" width="200%" height="200%"><feGaussianBlur stdDeviation="8"/></filter><filter id="b10" x="-50%" y="-50%" width="200%" height="200%"><feGaussianBlur stdDeviation="10"/></filter><filter id="b12" x="-50%" y="-50%" width="200%" height="200%"><feGaussianBlur stdDeviation="12"/></filter><filter id="b16" x="-50%" y="-50%" width="200%" height="200%"><feGaussianBlur stdDeviation="16"/></filter><filter id="b20" x="-50%" y="-50%" width="200%" height="200%"><feGaussianBlur stdDeviation="20"/></filter><linearGradient id="gel1bg" x1="0" y1="0" x2="0" y2="1">
<stop offset="0" stop-color="#dcdcef"/><stop offset="0.35" stop-color="#e0ddf1"/>
<stop offset="0.6" stop-color="#e6e4f2"/><stop offset="0.75" stop-color="#eeedf3"/><stop offset="1" stop-color="#f2f2f4"/></linearGradient>
<linearGradient id="mlane" x1="0" y1="0" x2="0" y2="1">
<stop offset="0" stop-color="#c8d8f0"/><stop offset="0.5" stop-color="#cadcf2"/><stop offset="0.85" stop-color="#d2e2f5"/><stop offset="1" stop-color="#e6eef7"/></linearGradient>
</defs>
<rect x="304" y="1975" width="514" height="650" fill="url(#gel1bg)"/>
<rect x="305.5" y="1980.0" width="48.0" height="620.0" rx="6.0" fill="url(#mlane)" fill-opacity="1" filter="url(#b4)"/>
<rect x="308.5" y="2350.0" width="42.0" height="120.0" rx="8.0" fill="#a8c8ee" fill-opacity="0.75" filter="url(#b4)"/>
<rect x="308.5" y="2475.0" width="42.0" height="90.0" rx="8.0" fill="#b8d4f2" fill-opacity="0.6" filter="url(#b4)"/>
<rect x="306.5" y="1981.8" width="46.0" height="6.4" rx="3.2" fill="#7f98e2" fill-opacity="0.8" filter="url(#b2)"/><ellipse cx="318.0" cy="1985.0" rx="12.0" ry="4.0" fill="#7f98e2" fill-opacity="1" filter="url(#b2)"/><ellipse cx="341.0" cy="1985.0" rx="12.0" ry="4.0" fill="#7f98e2" fill-opacity="1" filter="url(#b2)"/>
<rect x="306.5" y="1993.8" width="46.0" height="10.4" rx="5.2" fill="#d83b33" fill-opacity="0.8" filter="url(#b2)"/><ellipse cx="318.0" cy="1999.0" rx="12.0" ry="6.5" fill="#d83b33" fill-opacity="1" filter="url(#b2)"/><ellipse cx="341.0" cy="1999.0" rx="12.0" ry="6.5" fill="#d83b33" fill-opacity="1" filter="url(#b2)"/>
<rect x="306.5" y="2018.0" width="46.0" height="8.0" rx="4.0" fill="#3c5ec6" fill-opacity="0.8" filter="url(#b2)"/><ellipse cx="318.0" cy="2022.0" rx="12.0" ry="5.0" fill="#3c5ec6" fill-opacity="1" filter="url(#b2)"/><ellipse cx="341.0" cy="2022.0" rx="12.0" ry="5.0" fill="#3c5ec6" fill-opacity="1" filter="url(#b2)"/>
<rect x="306.5" y="2040.6" width="46.0" height="8.8" rx="4.4" fill="#3f7bdb" fill-opacity="0.8" filter="url(#b2)"/><ellipse cx="318.0" cy="2045.0" rx="12.0" ry="5.5" fill="#3f7bdb" fill-opacity="1" filter="url(#b2)"/><ellipse cx="341.0" cy="2045.0" rx="12.0" ry="5.5" fill="#3f7bdb" fill-opacity="1" filter="url(#b2)"/>
<rect x="306.5" y="2081.2" width="46.0" height="9.6" rx="4.8" fill="#5e98e2" fill-opacity="0.8" filter="url(#b2)"/><ellipse cx="318.0" cy="2086.0" rx="12.0" ry="6.0" fill="#5e98e2" fill-opacity="1" filter="url(#b2)"/><ellipse cx="341.0" cy="2086.0" rx="12.0" ry="6.0" fill="#5e98e2" fill-opacity="1" filter="url(#b2)"/>
<rect x="306.5" y="2130.8" width="46.0" height="10.4" rx="5.2" fill="#4a88e2" fill-opacity="0.8" filter="url(#b2)"/><ellipse cx="318.0" cy="2136.0" rx="12.0" ry="6.5" fill="#4a88e2" fill-opacity="1" filter="url(#b2)"/><ellipse cx="341.0" cy="2136.0" rx="12.0" ry="6.5" fill="#4a88e2" fill-opacity="1" filter="url(#b2)"/>
<rect x="306.5" y="2284.4" width="46.0" height="11.2" rx="5.6" fill="#6ea2e8" fill-opacity="0.8" filter="url(#b2)"/><ellipse cx="318.0" cy="2290.0" rx="12.0" ry="7.0" fill="#6ea2e8" fill-opacity="1" filter="url(#b2)"/><ellipse cx="341.0" cy="2290.0" rx="12.0" ry="7.0" fill="#6ea2e8" fill-opacity="1" filter="url(#b2)"/>
<rect x="369.0" y="2000.0" width="60.0" height="380.0" rx="30.0" fill="#c8bdf4" fill-opacity="0.7" filter="url(#b8)"/>
<rect x="366.0" y="2012.0" width="66.0" height="6.0" rx="2.4" fill="#b8a8f0" fill-opacity="0.8" filter="url(#b2)"/>
<rect x="366.0" y="2023.0" width="66.0" height="8.0" rx="3.2" fill="#ab96f2" fill-opacity="1" filter="url(#b2)"/>
<rect x="366.0" y="2059.0" width="66.0" height="26.0" rx="10.4" fill="#1010f0" fill-opacity="1" filter="url(#b3)"/>
<rect x="366.0" y="2059.0" width="66.0" height="14.0" rx="5.6" fill="#0000ee" fill-opacity="1" filter="url(#b3)"/>
<rect x="366.0" y="2096.0" width="66.0" height="18.0" rx="7.2" fill="#9a82f6" fill-opacity="1" filter="url(#b3)"/>
<rect x="366.0" y="2121.0" width="66.0" height="10.0" rx="4.0" fill="#b8a8f0" fill-opacity="0.8" filter="url(#b3)"/>
<rect x="366.0" y="2147.0" width="66.0" height="10.0" rx="4.0" fill="#a48cf2" fill-opacity="1" filter="url(#b3)"/>
<rect x="366.0" y="2188.0" width="66.0" height="40.0" rx="16.0" fill="#0000f0" fill-opacity="1" filter="url(#b3)"/>
<rect x="366.0" y="2188.0" width="66.0" height="16.0" rx="6.4" fill="#2a10f2" fill-opacity="1" filter="url(#b3)"/>
<rect x="366.0" y="2294.0" width="66.0" height="36.0" rx="14.4" fill="#2a10f2" fill-opacity="1" filter="url(#b4)"/>
<rect x="366.0" y="2330.0" width="66.0" height="40.0" rx="16.0" fill="#6a48f5" fill-opacity="1" filter="url(#b5)"/>
<rect x="366.0" y="2365.0" width="66.0" height="14.0" rx="5.6" fill="#8a70f5" fill-opacity="0.8" filter="url(#b4)"/>
<rect x="455.0" y="2000.0" width="50.0" height="300.0" rx="25.0" fill="#d6cef4" fill-opacity="0.6" filter="url(#b8)"/>
<rect x="455.0" y="2030.0" width="50.0" height="16.0" rx="8.0" fill="#b8a2f2" fill-opacity="1" filter="url(#b3)"/>
<rect x="455.0" y="2079.0" width="50.0" height="6.0" rx="3.0" fill="#c4b4f0" fill-opacity="0.9" filter="url(#b3)"/>
<rect x="455.0" y="2176.0" width="50.0" height="8.0" rx="4.0" fill="#d0c8f0" fill-opacity="0.8" filter="url(#b3)"/>
<rect x="455.0" y="2208.0" width="50.0" height="8.0" rx="4.0" fill="#c0b0f0" fill-opacity="0.9" filter="url(#b3)"/>
<rect x="455.0" y="2307.0" width="56.0" height="30.0" rx="15.0" fill="#7a55f6" fill-opacity="1" filter="url(#b5)"/>
<path d="M452 2335 Q452 2326 470 2326 L506 2326 Q514 2330 513 2350 L511 2420 Q508 2455 502 2470 Q495 2478 485 2470 Q465 2455 458 2430 Q451 2400 452 2335 Z" fill="#0000f0" filter="url(#b4)"/>
<rect x="460.0" y="2440.0" width="40.0" height="30.0" rx="15.0" fill="#7040f5" fill-opacity="0.8" filter="url(#b5)"/>
<rect x="522.5" y="2000.0" width="54.0" height="380.0" rx="27.0" fill="#beb0f4" fill-opacity="0.75" filter="url(#b8)"/>
<rect x="520.5" y="2001.0" width="58.0" height="8.0" rx="3.2" fill="#b4a4f0" fill-opacity="1" filter="url(#b2)"/>
<rect x="520.5" y="2032.5" width="58.0" height="15.0" rx="6.0" fill="#4a28f0" fill-opacity="1" filter="url(#b3)"/>
<rect x="520.5" y="2056.0" width="58.0" height="20.0" rx="8.0" fill="#7a55f5" fill-opacity="1" filter="url(#b3)"/>
<rect x="520.5" y="2091.0" width="58.0" height="34.0" rx="13.6" fill="#9a80f5" fill-opacity="1" filter="url(#b4)"/>
<rect x="520.5" y="2140.5" width="58.0" height="35.0" rx="14.0" fill="#3818f0" fill-opacity="1" filter="url(#b3)"/>
<rect x="520.5" y="2180.0" width="58.0" height="30.0" rx="12.0" fill="#8060f6" fill-opacity="1" filter="url(#b4)"/>
<rect x="520.5" y="2230.0" width="58.0" height="50.0" rx="20.0" fill="#b0a0f0" fill-opacity="0.9" filter="url(#b5)"/>
<rect x="520.5" y="2286.5" width="58.0" height="37.0" rx="14.8" fill="#1808f2" fill-opacity="1" filter="url(#b3)"/>
<rect x="520.5" y="2325.0" width="58.0" height="40.0" rx="16.0" fill="#8a70f5" fill-opacity="1" filter="url(#b5)"/>
<rect x="520.5" y="2368.0" width="58.0" height="20.0" rx="8.0" fill="#b8a8f2" fill-opacity="0.8" filter="url(#b5)"/>
<rect x="595.5" y="1990.0" width="52.0" height="360.0" rx="26.0" fill="#d0c6f4" fill-opacity="0.6" filter="url(#b8)"/>
<rect x="592.5" y="1984.0" width="58.0" height="6.0" rx="2.4" fill="#c0b8f0" fill-opacity="1" filter="url(#b2)"/>
<rect x="592.5" y="2000.5" width="58.0" height="7.0" rx="2.8" fill="#b8b0f0" fill-opacity="1" filter="url(#b2)"/>
<rect x="592.5" y="2055.5" width="58.0" height="13.0" rx="5.2" fill="#c0b4f2" fill-opacity="1" filter="url(#b3)"/>
<rect x="592.5" y="2113.5" width="58.0" height="13.0" rx="5.2" fill="#8a68f5" fill-opacity="1" filter="url(#b3)"/>
<rect x="592.5" y="2140.5" width="58.0" height="11.0" rx="4.4" fill="#b0a0f2" fill-opacity="1" filter="url(#b3)"/>
<rect x="592.5" y="2162.5" width="58.0" height="11.0" rx="4.4" fill="#a890f2" fill-opacity="1" filter="url(#b3)"/>
<rect x="592.5" y="2186.5" width="58.0" height="33.0" rx="13.2" fill="#0000f0" fill-opacity="1" filter="url(#b3)"/>
<rect x="592.5" y="2250.0" width="58.0" height="20.0" rx="8.0" fill="#7048f5" fill-opacity="1" filter="url(#b3)"/>
<rect x="592.5" y="2299.5" width="58.0" height="15.0" rx="6.0" fill="#7a58f5" fill-opacity="1" filter="url(#b3)"/>
<rect x="592.5" y="2323.5" width="58.0" height="13.0" rx="5.2" fill="#8060f5" fill-opacity="1" filter="url(#b3)"/>
<rect x="592.5" y="2345.0" width="58.0" height="30.0" rx="12.0" fill="#c0b0f2" fill-opacity="0.8" filter="url(#b5)"/>
<rect x="672.0" y="2020.0" width="50.0" height="260.0" rx="25.0" fill="#d2c8f4" fill-opacity="0.55" filter="url(#b8)"/>
<rect x="669.0" y="1996.5" width="56.0" height="9.0" rx="3.6" fill="#c4b8f0" fill-opacity="1" filter="url(#b2)"/>
<rect x="669.0" y="2022.5" width="56.0" height="11.0" rx="4.4" fill="#b4a4f0" fill-opacity="1" filter="url(#b3)"/>
<rect x="669.0" y="2046.5" width="56.0" height="13.0" rx="5.2" fill="#9a80f0" fill-opacity="1" filter="url(#b3)"/>
<rect x="669.0" y="2192.5" width="56.0" height="9.0" rx="3.6" fill="#c8bcf0" fill-opacity="1" filter="url(#b3)"/>
<rect x="669.0" y="2260.0" width="56.0" height="30.0" rx="12.0" fill="#8a68f6" fill-opacity="1" filter="url(#b5)"/>
<rect x="669.0" y="2265.0" width="56.0" height="210.0" rx="18.0" fill="#6a40f8" fill-opacity="1" filter="url(#b5)"/>
<rect x="669.0" y="2388.0" width="56.0" height="20.0" rx="10.0" fill="#4010f8" fill-opacity="1" filter="url(#b4)"/>
<rect x="671.0" y="2457.0" width="52.0" height="26.0" rx="13.0" fill="#9a80f5" fill-opacity="0.8" filter="url(#b6)"/>
<rect x="742.0" y="1990.0" width="58.0" height="400.0" rx="29.0" fill="#c8bef4" fill-opacity="0.7" filter="url(#b8)"/>
<rect x="740.0" y="1976.5" width="62.0" height="7.0" rx="2.8" fill="#b8a8f0" fill-opacity="1" filter="url(#b2)"/>
<rect x="740.0" y="1996.5" width="62.0" height="9.0" rx="3.6" fill="#9a80f2" fill-opacity="1" filter="url(#b2)"/>
<rect x="740.0" y="2023.5" width="62.0" height="13.0" rx="5.2" fill="#8058f5" fill-opacity="1" filter="url(#b3)"/>
<rect x="740.0" y="2064.5" width="62.0" height="11.0" rx="4.4" fill="#9070f0" fill-opacity="1" filter="url(#b3)"/>
<rect x="740.0" y="2125.5" width="62.0" height="17.0" rx="6.8" fill="#5020f5" fill-opacity="1" filter="url(#b3)"/>
<rect x="740.0" y="2228.5" width="62.0" height="11.0" rx="4.4" fill="#8060f5" fill-opacity="1" filter="url(#b3)"/>
<rect x="740.0" y="2268.0" width="62.0" height="30.0" rx="12.0" fill="#8a68f5" fill-opacity="1" filter="url(#b5)"/>
<rect x="740.0" y="2300.0" width="62.0" height="30.0" rx="12.0" fill="#1000f5" fill-opacity="1" filter="url(#b3)"/>
<rect x="740.0" y="2350.0" width="62.0" height="22.0" rx="8.8" fill="#5030f5" fill-opacity="1" filter="url(#b3)"/>
<rect x="740.0" y="2378.0" width="62.0" height="80.0" rx="24.8" fill="#9a80f5" fill-opacity="1" filter="url(#b5)"/>
<rect x="740.0" y="2454.0" width="62.0" height="16.0" rx="6.4" fill="#c0b0f2" fill-opacity="0.8" filter="url(#b5)"/>
<rect x="824" y="1967" width="511" height="636" fill="#f8f6f5"/><rect x="824" y="1967" width="3" height="636" fill="#d8d6d5"/>
<rect x="829.0" y="1970.0" width="51.0" height="625.0" rx="4.0" fill="#e2edf9" fill-opacity="0.6" filter="url(#b5)"/>
<rect x="828.0" y="2312.0" width="53.0" height="60.0" rx="17.0" fill="#b4d2f4" fill-opacity="0.85" filter="url(#b5)"/>
<rect x="828.0" y="2415.0" width="53.0" height="170.0" rx="17.0" fill="#c0dbf6" fill-opacity="0.75" filter="url(#b8)"/>
<rect x="831.0" y="1971.0" width="47.0" height="8.0" rx="4.0" fill="#f0a0a0" fill-opacity="0.8" filter="url(#b2)"/>
<rect x="831.0" y="2000.0" width="47.0" height="6.0" rx="3.0" fill="#7a9ce8" fill-opacity="0.8" filter="url(#b2)"/>
<rect x="830.0" y="2032.4" width="49.0" height="7.2" rx="3.6" fill="#5f9ce8" fill-opacity="0.8" filter="url(#b2)"/><ellipse cx="842.2" cy="2036.0" rx="12.7" ry="4.5" fill="#5f9ce8" fill-opacity="1" filter="url(#b2)"/><ellipse cx="866.8" cy="2036.0" rx="12.7" ry="4.5" fill="#5f9ce8" fill-opacity="1" filter="url(#b2)"/>
<rect x="830.0" y="2077.6" width="49.0" height="12.8" rx="6.4" fill="#6aaaf0" fill-opacity="0.8" filter="url(#b3)"/><ellipse cx="842.2" cy="2084.0" rx="12.7" ry="8.0" fill="#6aaaf0" fill-opacity="1" filter="url(#b3)"/><ellipse cx="866.8" cy="2084.0" rx="12.7" ry="8.0" fill="#6aaaf0" fill-opacity="1" filter="url(#b3)"/>
<rect x="831.0" y="2107.0" width="47.0" height="6.0" rx="3.0" fill="#b8d4f4" fill-opacity="0.5" filter="url(#b2)"/>
<rect x="830.0" y="2137.8" width="49.0" height="14.4" rx="7.2" fill="#5fa6f0" fill-opacity="0.8" filter="url(#b3)"/><ellipse cx="842.2" cy="2145.0" rx="12.7" ry="9.0" fill="#5fa6f0" fill-opacity="1" filter="url(#b3)"/><ellipse cx="866.8" cy="2145.0" rx="12.7" ry="9.0" fill="#5fa6f0" fill-opacity="1" filter="url(#b3)"/>
<rect x="1269.0" y="1969.0" width="50.0" height="42.0" rx="6.0" fill="#f6bc88" fill-opacity="0.9" filter="url(#b4)"/>
<rect x="1269.0" y="2010.0" width="50.0" height="16.0" rx="8.0" fill="#f8dcc8" fill-opacity="0.8" filter="url(#b3)"/>
<rect x="1269.0" y="2027.0" width="50.0" height="34.0" rx="6.0" fill="#f6cc9f" fill-opacity="0.9" filter="url(#b4)"/>
<rect x="1269.0" y="2070.0" width="52.0" height="58.0" rx="6.0" fill="#f6c898" fill-opacity="0.9" filter="url(#b4)"/>
<rect x="1271.0" y="2128.0" width="52.0" height="34.0" rx="17.0" fill="#f6e2d4" fill-opacity="0.8" filter="url(#b5)"/>
<rect x="1272.0" y="2160.0" width="54.0" height="110.0" rx="27.0" fill="#f8dcc0" fill-opacity="0.85" filter="url(#b6)"/>
<text transform="translate(1079.5,2570.5) scale(0.92,1)" text-anchor="middle" font-family="'Liberation Serif','Times New Roman',serif" font-weight="bold" font-size="60" fill="#000">DRFS1</text>
<rect x="1349" y="1969" width="517" height="635" fill="#f6f6f6"/><rect x="1349" y="1969" width="4" height="635" fill="#e2e1e1"/>
<rect x="1356.0" y="1972.0" width="48.0" height="623.0" rx="4.0" fill="#e2edf9" fill-opacity="0.6" filter="url(#b5)"/>
<rect x="1355.0" y="2314.0" width="50.0" height="36.0" rx="12.0" fill="#9cc6f0" fill-opacity="0.9" filter="url(#b5)"/>
<rect x="1355.0" y="2420.0" width="50.0" height="120.0" rx="16.0" fill="#bcd8f4" fill-opacity="0.75" filter="url(#b8)"/>
<rect x="1358.0" y="1971.0" width="44.0" height="18.0" rx="9.0" fill="#f6c4c4" fill-opacity="0.85" filter="url(#b2)"/>
<rect x="1357.0" y="2010.7" width="46.0" height="5.6" rx="2.8" fill="#a0b2f0" fill-opacity="0.7200000000000001" filter="url(#b2)"/><ellipse cx="1368.5" cy="2013.5" rx="12.0" ry="3.5" fill="#a0b2f0" fill-opacity="0.9" filter="url(#b2)"/><ellipse cx="1391.5" cy="2013.5" rx="12.0" ry="3.5" fill="#a0b2f0" fill-opacity="0.9" filter="url(#b2)"/>
<rect x="1357.0" y="2041.0" width="46.0" height="8.0" rx="4.0" fill="#74aaf0" fill-opacity="0.8" filter="url(#b2)"/><ellipse cx="1368.5" cy="2045.0" rx="12.0" ry="5.0" fill="#74aaf0" fill-opacity="1" filter="url(#b2)"/><ellipse cx="1391.5" cy="2045.0" rx="12.0" ry="5.0" fill="#74aaf0" fill-opacity="1" filter="url(#b2)"/>
<rect x="1357.0" y="2085.8" width="46.0" height="14.4" rx="7.2" fill="#7cb6f0" fill-opacity="0.8" filter="url(#b3)"/><ellipse cx="1368.5" cy="2093.0" rx="12.0" ry="9.0" fill="#7cb6f0" fill-opacity="1" filter="url(#b3)"/><ellipse cx="1391.5" cy="2093.0" rx="12.0" ry="9.0" fill="#7cb6f0" fill-opacity="1" filter="url(#b3)"/>
<rect x="1358.0" y="2117.0" width="44.0" height="6.0" rx="3.0" fill="#c0d8f4" fill-opacity="0.5" filter="url(#b2)"/>
<rect x="1357.0" y="2145.0" width="46.0" height="16.0" rx="8.0" fill="#68b0f0" fill-opacity="0.8" filter="url(#b3)"/><ellipse cx="1368.5" cy="2153.0" rx="12.0" ry="10.0" fill="#68b0f0" fill-opacity="1" filter="url(#b3)"/><ellipse cx="1391.5" cy="2153.0" rx="12.0" ry="10.0" fill="#68b0f0" fill-opacity="1" filter="url(#b3)"/>
<text transform="translate(1609.7,2574.0) scale(0.92,1)" text-anchor="middle" font-family="'Liberation Serif','Times New Roman',serif" font-weight="bold" font-size="60" fill="#000">DRFS2</text>
<rect x="1893" y="1975" width="513" height="632" fill="#f7f6f6"/>
<rect x="2345.0" y="1980.0" width="60.0" height="50.0" rx="25.0" fill="#eadff8" fill-opacity="0.8" filter="url(#b8)"/>
<rect x="1894.0" y="2150.0" width="57.0" height="425.0" rx="4.0" fill="#dce8f8" fill-opacity="0.8" filter="url(#b5)"/>
<rect x="1893.0" y="2275.0" width="59.0" height="34.0" rx="11.3" fill="#98bef0" fill-opacity="0.85" filter="url(#b5)"/>
<rect x="1893.0" y="2365.0" width="59.0" height="70.0" rx="19.0" fill="#b0cef2" fill-opacity="0.75" filter="url(#b8)"/>
<rect x="1893.0" y="2435.0" width="59.0" height="110.0" rx="19.0" fill="#bcd6f4" fill-opacity="0.7" filter="url(#b8)"/>
<rect x="1896.0" y="1989.0" width="53.0" height="6.0" rx="3.0" fill="#f07a7a" fill-opacity="0.7" filter="url(#b2)"/>
<rect x="1896.0" y="2014.0" width="53.0" height="6.0" rx="3.0" fill="#7890e4" fill-opacity="0.8" filter="url(#b2)"/>
<rect x="1896.0" y="2040.5" width="53.0" height="8.0" rx="4.0" fill="#6a90e4" fill-opacity="0.9" filter="url(#b2)"/>
<rect x="1895.0" y="2082.0" width="55.0" height="12.0" rx="6.0" fill="#6a96e8" fill-opacity="0.76" filter="url(#b3)"/><ellipse cx="1908.8" cy="2088.0" rx="14.3" ry="7.5" fill="#6a96e8" fill-opacity="0.95" filter="url(#b3)"/><ellipse cx="1936.2" cy="2088.0" rx="14.3" ry="7.5" fill="#6a96e8" fill-opacity="0.95" filter="url(#b3)"/>
<rect x="1896.0" y="2114.5" width="53.0" height="5.0" rx="2.5" fill="#b0c8f2" fill-opacity="0.5" filter="url(#b2)"/>
<rect x="1895.0" y="2133.3" width="55.0" height="10.4" rx="5.2" fill="#5a8ce8" fill-opacity="0.8" filter="url(#b3)"/><ellipse cx="1908.8" cy="2138.5" rx="14.3" ry="6.5" fill="#5a8ce8" fill-opacity="1" filter="url(#b3)"/><ellipse cx="1936.2" cy="2138.5" rx="14.3" ry="6.5" fill="#5a8ce8" fill-opacity="1" filter="url(#b3)"/>
<rect x="2344.0" y="2314.0" width="56.0" height="56.0" rx="10.0" fill="#f0b68c" fill-opacity="0.95" filter="url(#b5)"/>
<rect x="2348.0" y="2218.5" width="48.0" height="5.0" rx="2.5" fill="#f6cfb0" fill-opacity="0.8" filter="url(#b2)"/>
<text transform="translate(2142.5,2574.0) scale(0.92,1)" text-anchor="middle" font-family="'Liberation Serif','Times New Roman',serif" font-weight="bold" font-size="60" fill="#000">DRFS3</text>
<rect x="280" y="2630" width="517" height="634" fill="#f9f9f9"/>
<rect x="292.0" y="2640.0" width="59.0" height="550.0" rx="4.0" fill="#eef4fa" fill-opacity="0.5" filter="url(#b5)"/>
<rect x="291.0" y="2930.0" width="61.0" height="48.0" rx="16.0" fill="#d4e6f8" fill-opacity="0.7" filter="url(#b5)"/>
<rect x="291.0" y="3011.0" width="61.0" height="94.0" rx="19.7" fill="#dcebf8" fill-opacity="0.6" filter="url(#b8)"/>
<rect x="294.0" y="2647.5" width="55.0" height="5.0" rx="2.5" fill="#f8d0d0" fill-opacity="0.6" filter="url(#b2)"/>
<rect x="294.0" y="2670.1" width="55.0" height="5.0" rx="2.5" fill="#b4d0f4" fill-opacity="0.6" filter="url(#b2)"/>
<rect x="293.0" y="2696.7" width="57.0" height="5.6" rx="2.8" fill="#b0d0f4" fill-opacity="0.48" filter="url(#b2)"/><ellipse cx="307.2" cy="2699.5" rx="14.8" ry="3.5" fill="#b0d0f4" fill-opacity="0.6" filter="url(#b2)"/><ellipse cx="335.8" cy="2699.5" rx="14.8" ry="3.5" fill="#b0d0f4" fill-opacity="0.6" filter="url(#b2)"/>
<rect x="293.0" y="2739.0" width="57.0" height="7.2" rx="3.6" fill="#acd0f4" fill-opacity="0.5599999999999999" filter="url(#b2)"/><ellipse cx="307.2" cy="2742.6" rx="14.8" ry="4.5" fill="#acd0f4" fill-opacity="0.7" filter="url(#b2)"/><ellipse cx="335.8" cy="2742.6" rx="14.8" ry="4.5" fill="#acd0f4" fill-opacity="0.7" filter="url(#b2)"/>
<rect x="293.0" y="2788.1" width="57.0" height="8.8" rx="4.4" fill="#a4cef4" fill-opacity="0.6400000000000001" filter="url(#b2)"/><ellipse cx="307.2" cy="2792.5" rx="14.8" ry="5.5" fill="#a4cef4" fill-opacity="0.8" filter="url(#b2)"/><ellipse cx="335.8" cy="2792.5" rx="14.8" ry="5.5" fill="#a4cef4" fill-opacity="0.8" filter="url(#b2)"/>
<rect x="717.0" y="2880.0" width="70.0" height="90.0" rx="35.0" fill="#fdf1e6" fill-opacity="0.5" filter="url(#b8)"/>
<path d="M712 2975 Q716 2965 735 2966 Q752 2968 758 2976 Q768 2970 785 2969 L797 2970 L797 3028 Q770 3036 745 3034 Q718 3030 712 3010 Z" fill="#f97f2a" filter="url(#b5)"/>
<text transform="translate(546.5,3227.0) scale(0.92,1)" text-anchor="middle" font-family="'Liberation Serif','Times New Roman',serif" font-weight="bold" font-size="60" fill="#000">DRFS6</text>
<rect x="822" y="2630" width="512" height="634" fill="#f9f9f9"/>
<rect x="825.0" y="2640.0" width="51.0" height="600.0" rx="4.0" fill="#eef4fa" fill-opacity="0.5" filter="url(#b5)"/>
<rect x="824.0" y="2938.0" width="53.0" height="30.0" rx="10.0" fill="#d4e6f8" fill-opacity="0.6" filter="url(#b5)"/>
<rect x="824.0" y="3020.0" width="53.0" height="200.0" rx="17.0" fill="#e0edf9" fill-opacity="0.5" filter="url(#b8)"/>
<rect x="827.0" y="2647.1" width="47.0" height="5.0" rx="2.5" fill="#a8c8f4" fill-opacity="0.6" filter="url(#b2)"/>
<rect x="827.0" y="2676.3" width="47.0" height="6.0" rx="3.0" fill="#a4c8f4" fill-opacity="0.7" filter="url(#b2)"/>
<rect x="826.0" y="2722.9" width="49.0" height="7.2" rx="3.6" fill="#a4ccf4" fill-opacity="0.6400000000000001" filter="url(#b2)"/><ellipse cx="838.2" cy="2726.5" rx="12.7" ry="4.5" fill="#a4ccf4" fill-opacity="0.8" filter="url(#b2)"/><ellipse cx="862.8" cy="2726.5" rx="12.7" ry="4.5" fill="#a4ccf4" fill-opacity="0.8" filter="url(#b2)"/>
<rect x="827.0" y="2757.5" width="47.0" height="5.0" rx="2.5" fill="#d0e2f8" fill-opacity="0.5" filter="url(#b2)"/>
<rect x="826.0" y="2780.0" width="49.0" height="8.8" rx="4.4" fill="#98c8f4" fill-opacity="0.7200000000000001" filter="url(#b2)"/><ellipse cx="838.2" cy="2784.4" rx="12.7" ry="5.5" fill="#98c8f4" fill-opacity="0.9" filter="url(#b2)"/><ellipse cx="862.8" cy="2784.4" rx="12.7" ry="5.5" fill="#98c8f4" fill-opacity="0.9" filter="url(#b2)"/>
<rect x="1271.0" y="2905.0" width="50.0" height="60.0" rx="25.0" fill="#fcf0e6" fill-opacity="0.45" filter="url(#b8)"/>
<path d="M1268 2992 Q1272 2978 1292 2976 Q1312 2966 1325 2968 Q1333 2980 1332 3010 Q1330 3036 1300 3042 Q1272 3042 1268 3020 Z" fill="#ff9433" filter="url(#b5)"/>
<text transform="translate(1092.5,3235.0) scale(0.92,1)" text-anchor="middle" font-family="'Liberation Serif','Times New Roman',serif" font-weight="bold" font-size="60" fill="#000">DRFS9</text>
<rect x="1351" y="2632" width="515" height="633" fill="#f8f8f8"/>
<rect x="1356.0" y="2640.0" width="46.0" height="615.0" rx="4.0" fill="#eaf2fa" fill-opacity="0.55" filter="url(#b5)"/>
<rect x="1355.0" y="2980.5" width="48.0" height="65.0" rx="15.3" fill="#d0e4f8" fill-opacity="0.75" filter="url(#b8)"/>
<rect x="1355.0" y="3075.0" width="48.0" height="150.0" rx="15.3" fill="#dceaf8" fill-opacity="0.6" filter="url(#b8)"/>
<rect x="1358.0" y="2641.5" width="42.0" height="5.0" rx="2.5" fill="#f8c8b0" fill-opacity="0.5" filter="url(#b2)"/>
<rect x="1358.0" y="2674.1" width="42.0" height="5.0" rx="2.5" fill="#98c0f0" fill-opacity="0.7" filter="url(#b2)"/>
<rect x="1357.0" y="2708.0" width="44.0" height="7.2" rx="3.6" fill="#98c4f0" fill-opacity="0.6400000000000001" filter="url(#b2)"/><ellipse cx="1368.0" cy="2711.6" rx="11.4" ry="4.5" fill="#98c4f0" fill-opacity="0.8" filter="url(#b2)"/><ellipse cx="1390.0" cy="2711.6" rx="11.4" ry="4.5" fill="#98c4f0" fill-opacity="0.8" filter="url(#b2)"/>
<rect x="1357.0" y="2757.0" width="44.0" height="12.0" rx="6.0" fill="#a0ccf4" fill-opacity="0.7200000000000001" filter="url(#b3)"/><ellipse cx="1368.0" cy="2763.0" rx="11.4" ry="7.5" fill="#a0ccf4" fill-opacity="0.9" filter="url(#b3)"/><ellipse cx="1390.0" cy="2763.0" rx="11.4" ry="7.5" fill="#a0ccf4" fill-opacity="0.9" filter="url(#b3)"/>
<rect x="1357.0" y="2818.2" width="44.0" height="13.6" rx="6.8" fill="#98c8f4" fill-opacity="0.8" filter="url(#b3)"/><ellipse cx="1368.0" cy="2825.0" rx="11.4" ry="8.5" fill="#98c8f4" fill-opacity="1" filter="url(#b3)"/><ellipse cx="1390.0" cy="2825.0" rx="11.4" ry="8.5" fill="#98c8f4" fill-opacity="1" filter="url(#b3)"/>
<rect x="1785.0" y="2945.0" width="56.0" height="60.0" rx="28.0" fill="#fcece0" fill-opacity="0.5" filter="url(#b8)"/>
<path d="M1781 3005 Q1784 2994 1800 2994 Q1812 2996 1818 3006 Q1835 3008 1852 3012 Q1856 3040 1852 3062 Q1830 3076 1800 3076 Q1782 3070 1780 3045 Z" fill="#ff6f25" filter="url(#b5)"/>
<text transform="translate(1609.5,3245.0) scale(0.92,1)" text-anchor="middle" font-family="'Liberation Serif','Times New Roman',serif" font-weight="bold" font-size="60" fill="#000">DRFS13</text>
<rect x="1893" y="2632" width="516" height="638" fill="#f8f8f8"/>
<rect x="1895.0" y="2640.0" width="46.0" height="625.0" rx="4.0" fill="#e6f0fa" fill-opacity="0.7" filter="url(#b5)"/>
<rect x="1894.0" y="2980.5" width="48.0" height="43.0" rx="14.3" fill="#bedaf6" fill-opacity="0.8" filter="url(#b5)"/>
<rect x="1894.0" y="3075.0" width="48.0" height="190.0" rx="15.3" fill="#d4e6f8" fill-opacity="0.7" filter="url(#b8)"/>
<rect x="1897.0" y="2660.0" width="42.0" height="6.0" rx="3.0" fill="#f4a0a0" fill-opacity="0.75" filter="url(#b2)"/>
<rect x="1897.0" y="2687.9" width="42.0" height="7.0" rx="3.5" fill="#70a0e8" fill-opacity="0.9" filter="url(#b2)"/>
<rect x="1897.0" y="2717.0" width="42.0" height="8.0" rx="4.0" fill="#70a8ec" fill-opacity="0.9" filter="url(#b2)"/>
<rect x="1896.0" y="2760.6" width="44.0" height="12.8" rx="6.4" fill="#78b4f0" fill-opacity="0.8" filter="url(#b3)"/><ellipse cx="1907.0" cy="2767.0" rx="11.4" ry="8.0" fill="#78b4f0" fill-opacity="1" filter="url(#b3)"/><ellipse cx="1929.0" cy="2767.0" rx="11.4" ry="8.0" fill="#78b4f0" fill-opacity="1" filter="url(#b3)"/>
<rect x="1897.0" y="2795.0" width="42.0" height="6.0" rx="3.0" fill="#c0d8f4" fill-opacity="0.5" filter="url(#b2)"/>
<rect x="1896.0" y="2818.0" width="44.0" height="16.0" rx="8.0" fill="#68b0f0" fill-opacity="0.8" filter="url(#b3)"/><ellipse cx="1907.0" cy="2826.0" rx="11.4" ry="10.0" fill="#68b0f0" fill-opacity="1" filter="url(#b3)"/><ellipse cx="1929.0" cy="2826.0" rx="11.4" ry="10.0" fill="#68b0f0" fill-opacity="1" filter="url(#b3)"/>
<ellipse cx="2346.0" cy="3050.0" rx="19.0" ry="23.0" fill="#f8e0b8" fill-opacity="0.95" filter="url(#b6)"/>
<ellipse cx="2382.0" cy="3050.0" rx="13.0" ry="17.0" fill="#fbeede" fill-opacity="0.9" filter="url(#b6)"/>
<text transform="translate(2150.0,3239.0) scale(0.92,1)" text-anchor="middle" font-family="'Liberation Serif','Times New Roman',serif" font-weight="bold" font-size="60" fill="#000">DRFL1</text>
<rect x="292" y="3274" width="514" height="642" fill="#f9f9f9"/>
<rect x="295.0" y="3285.0" width="47.0" height="620.0" rx="4.0" fill="#e6f0fa" fill-opacity="0.65" filter="url(#b5)"/>
<rect x="294.0" y="3634.0" width="49.0" height="40.0" rx="13.3" fill="#b8d8f4" fill-opacity="0.85" filter="url(#b5)"/>
<rect x="294.0" y="3690.0" width="49.0" height="200.0" rx="15.7" fill="#d2e6f8" fill-opacity="0.65" filter="url(#b8)"/>
<rect x="297.0" y="3293.0" width="43.0" height="8.0" rx="4.0" fill="#f8b0a8" fill-opacity="0.8" filter="url(#b2)"/>
<rect x="297.0" y="3324.5" width="43.0" height="7.0" rx="3.5" fill="#78a8ec" fill-opacity="0.9" filter="url(#b2)"/>
<rect x="296.0" y="3354.0" width="45.0" height="7.2" rx="3.6" fill="#78b0f0" fill-opacity="0.7200000000000001" filter="url(#b2)"/><ellipse cx="307.2" cy="3357.6" rx="11.7" ry="4.5" fill="#78b0f0" fill-opacity="0.9" filter="url(#b2)"/><ellipse cx="329.8" cy="3357.6" rx="11.7" ry="4.5" fill="#78b0f0" fill-opacity="0.9" filter="url(#b2)"/>
<rect x="296.0" y="3398.8" width="45.0" height="14.4" rx="7.2" fill="#80bcf2" fill-opacity="0.8" filter="url(#b3)"/><ellipse cx="307.2" cy="3406.0" rx="11.7" ry="9.0" fill="#80bcf2" fill-opacity="1" filter="url(#b3)"/><ellipse cx="329.8" cy="3406.0" rx="11.7" ry="9.0" fill="#80bcf2" fill-opacity="1" filter="url(#b3)"/>
<rect x="297.0" y="3435.5" width="43.0" height="6.0" rx="3.0" fill="#c8dcf6" fill-opacity="0.5" filter="url(#b2)"/>
<rect x="296.0" y="3457.4" width="45.0" height="16.0" rx="8.0" fill="#78b8f2" fill-opacity="0.8" filter="url(#b3)"/><ellipse cx="307.2" cy="3465.4" rx="11.7" ry="10.0" fill="#78b8f2" fill-opacity="1" filter="url(#b3)"/><ellipse cx="329.8" cy="3465.4" rx="11.7" ry="10.0" fill="#78b8f2" fill-opacity="1" filter="url(#b3)"/>
<text transform="translate(557.5,3900.0) scale(0.92,1)" text-anchor="middle" font-family="'Liberation Serif','Times New Roman',serif" font-weight="bold" font-size="60" fill="#000">DRFL3</text>
<rect x="823" y="3293" width="514" height="635" fill="#f9f9f9"/><rect x="823" y="3293" width="3" height="635" fill="#ececec"/>
<rect x="831.0" y="3300.0" width="49.0" height="560.0" rx="4.0" fill="#e8f1fa" fill-opacity="0.6" filter="url(#b5)"/>
<rect x="830.0" y="3602.5" width="51.0" height="41.0" rx="13.7" fill="#c4dcf6" fill-opacity="0.75" filter="url(#b5)"/>
<rect x="830.0" y="3682.5" width="51.0" height="135.0" rx="16.3" fill="#d4e6f8" fill-opacity="0.65" filter="url(#b8)"/>
<rect x="833.0" y="3311.0" width="45.0" height="6.0" rx="3.0" fill="#f8b0a8" fill-opacity="0.75" filter="url(#b2)"/>
<rect x="833.0" y="3335.0" width="45.0" height="6.0" rx="3.0" fill="#90b8f0" fill-opacity="0.8" filter="url(#b2)"/>
<rect x="833.0" y="3361.0" width="45.0" height="8.0" rx="4.0" fill="#80b4f0" fill-opacity="0.9" filter="url(#b2)"/>
<rect x="832.0" y="3399.5" width="47.0" height="14.4" rx="7.2" fill="#88c0f2" fill-opacity="0.8" filter="url(#b3)"/><ellipse cx="843.8" cy="3406.7" rx="12.2" ry="9.0" fill="#88c0f2" fill-opacity="1" filter="url(#b3)"/><ellipse cx="867.2" cy="3406.7" rx="12.2" ry="9.0" fill="#88c0f2" fill-opacity="1" filter="url(#b3)"/>
<rect x="833.0" y="3429.0" width="45.0" height="6.0" rx="3.0" fill="#c8dcf6" fill-opacity="0.5" filter="url(#b2)"/>
<rect x="832.0" y="3451.0" width="47.0" height="16.0" rx="8.0" fill="#80bcf2" fill-opacity="0.8" filter="url(#b3)"/><ellipse cx="843.8" cy="3459.0" rx="12.2" ry="10.0" fill="#80bcf2" fill-opacity="1" filter="url(#b3)"/><ellipse cx="867.2" cy="3459.0" rx="12.2" ry="10.0" fill="#80bcf2" fill-opacity="1" filter="url(#b3)"/>
<text transform="translate(1080.5,3900.0) scale(0.92,1)" text-anchor="middle" font-family="'Liberation Serif','Times New Roman',serif" font-weight="bold" font-size="60" fill="#000">DRFL6</text>
<rect x="1351" y="3295" width="515" height="636" fill="#fbf8f7"/>
<rect x="1352.0" y="3300.0" width="35.0" height="600.0" rx="4.0" fill="#eef4fa" fill-opacity="0.5" filter="url(#b5)"/>
<rect x="1351.0" y="3630.0" width="37.0" height="22.0" rx="7.3" fill="#d0e4f8" fill-opacity="0.6" filter="url(#b5)"/>
<rect x="1351.0" y="3660.0" width="37.0" height="200.0" rx="11.7" fill="#e2eef9" fill-opacity="0.5" filter="url(#b8)"/>
<rect x="1354.0" y="3303.0" width="31.0" height="8.0" rx="4.0" fill="#f8c0a8" fill-opacity="0.6" filter="url(#b2)"/>
<rect x="1354.0" y="3340.0" width="31.0" height="6.0" rx="3.0" fill="#a8c8f4" fill-opacity="0.7" filter="url(#b2)"/>
<rect x="1354.0" y="3370.0" width="31.0" height="8.0" rx="4.0" fill="#a0c8f4" fill-opacity="0.8" filter="url(#b2)"/>
<rect x="1353.0" y="3413.4" width="33.0" height="11.2" rx="5.6" fill="#a8d0f4" fill-opacity="0.6400000000000001" filter="url(#b3)"/><ellipse cx="1361.2" cy="3419.0" rx="8.6" ry="7.0" fill="#a8d0f4" fill-opacity="0.8" filter="url(#b3)"/><ellipse cx="1377.8" cy="3419.0" rx="8.6" ry="7.0" fill="#a8d0f4" fill-opacity="0.8" filter="url(#b3)"/>
<rect x="1353.0" y="3467.6" width="33.0" height="12.8" rx="6.4" fill="#98ccf4" fill-opacity="0.7200000000000001" filter="url(#b3)"/><ellipse cx="1361.2" cy="3474.0" rx="8.6" ry="8.0" fill="#98ccf4" fill-opacity="0.9" filter="url(#b3)"/><ellipse cx="1377.8" cy="3474.0" rx="8.6" ry="8.0" fill="#98ccf4" fill-opacity="0.9" filter="url(#b3)"/>
<text transform="translate(1609.5,3900.0) scale(0.92,1)" text-anchor="middle" font-family="'Liberation Serif','Times New Roman',serif" font-weight="bold" font-size="60" fill="#000">DRFL8</text>
<text transform="translate(170.6,1945.7) scale(1.12,1)" font-family="'Liberation Serif','Times New Roman',serif" font-weight="bold" font-size="30.5" fill="#1a1a1a">(kDa)</text>
<text transform="translate(288.5,2002) scale(0.9,1)" text-anchor="end" font-family="'Liberation Serif','Times New Roman',serif" font-weight="bold" font-size="24" fill="#1a1a1a">148</text>
<text transform="translate(288.5,2030) scale(0.9,1)" text-anchor="end" font-family="'Liberation Serif','Times New Roman',serif" font-weight="bold" font-size="24" fill="#1a1a1a">98</text>
<text transform="translate(288.5,2055.5) scale(0.9,1)" text-anchor="end" font-family="'Liberation Serif','Times New Roman',serif" font-weight="bold" font-size="24" fill="#1a1a1a">64</text>
<text transform="translate(288.5,2081) scale(0.9,1)" text-anchor="end" font-family="'Liberation Serif','Times New Roman',serif" font-weight="bold" font-size="24" fill="#1a1a1a">50</text>
<text transform="translate(288.5,2140) scale(0.9,1)" text-anchor="end" font-family="'Liberation Serif','Times New Roman',serif" font-weight="bold" font-size="24" fill="#1a1a1a">36</text>
<text transform="translate(288.5,2249) scale(0.9,1)" text-anchor="end" font-family="'Liberation Serif','Times New Roman',serif" font-weight="bold" font-size="24" fill="#1a1a1a">22</text>
<text transform="translate(288.5,2304) scale(0.9,1)" text-anchor="end" font-family="'Liberation Serif','Times New Roman',serif" font-weight="bold" font-size="24" fill="#1a1a1a">16</text>
<text transform="translate(288.5,2413) scale(0.9,1)" text-anchor="end" font-family="'Liberation Serif','Times New Roman',serif" font-weight="bold" font-size="24" fill="#1a1a1a">6</text>
<text transform="translate(288.5,2548) scale(0.9,1)" text-anchor="end" font-family="'Liberation Serif','Times New Roman',serif" font-weight="bold" font-size="24" fill="#1a1a1a">4</text>
<text transform="translate(325,1967) scale(0.9,1)" text-anchor="middle" font-family="'Liberation Serif','Times New Roman',serif" font-weight="bold" font-size="51">M</text>
<text transform="translate(390.6,1976.3) scale(0.93,1) rotate(-50)" font-family="'Liberation Serif','Times New Roman',serif" font-weight="bold" font-size="46">DA</text>
<text transform="translate(471.6,1979.5) scale(0.93,1) rotate(-50)" font-family="'Liberation Serif','Times New Roman',serif" font-weight="bold" font-size="46">BM</text>
<text transform="translate(549.3,1973.2) scale(0.93,1) rotate(-50)" font-family="'Liberation Serif','Times New Roman',serif" font-weight="bold" font-size="46">TG</text>
<text transform="translate(610.7,1968.4) scale(0.93,1) rotate(-50)" font-family="'Liberation Serif','Times New Roman',serif" font-weight="bold" font-size="46">TM</text>
<text transform="translate(676.3,1973.2) scale(0.93,1) rotate(-50)" font-family="'Liberation Serif','Times New Roman',serif" font-weight="bold" font-size="46">NNA</text>
<text transform="translate(747.0,1979.5) scale(0.93,1) rotate(-50)" font-family="'Liberation Serif','Times New Roman',serif" font-weight="bold" font-size="46">DRF</text>
<text transform="translate(861,1964) scale(0.9,1)" text-anchor="middle" font-family="'Liberation Serif','Times New Roman',serif" font-weight="bold" font-size="51">M</text>
<text transform="translate(924.0,1973.0) scale(0.93,1) rotate(-50)" font-family="'Liberation Serif','Times New Roman',serif" font-weight="bold" font-size="46">DA</text>
<text transform="translate(1008.0,1976.0) scale(0.93,1) rotate(-50)" font-family="'Liberation Serif','Times New Roman',serif" font-weight="bold" font-size="46">BM</text>
<text transform="translate(1082.5,1972.0) scale(0.93,1) rotate(-50)" font-family="'Liberation Serif','Times New Roman',serif" font-weight="bold" font-size="46">TG</text>
<text transform="translate(1147.0,1970.0) scale(0.93,1) rotate(-50)" font-family="'Liberation Serif','Times New Roman',serif" font-weight="bold" font-size="46">TM</text>
<text transform="translate(1215.7,1971.0) scale(0.93,1) rotate(-50)" font-family="'Liberation Serif','Times New Roman',serif" font-weight="bold" font-size="46">NNA</text>
<text transform="translate(1284.5,1974.8) scale(0.93,1) rotate(-50)" font-family="'Liberation Serif','Times New Roman',serif" font-weight="bold" font-size="46">DRF</text>
<text transform="translate(1378,1964.2) scale(0.9,1)" text-anchor="middle" font-family="'Liberation Serif','Times New Roman',serif" font-weight="bold" font-size="51">M</text>
<text transform="translate(1442.0,1973.0) scale(0.93,1) rotate(-50)" font-family="'Liberation Serif','Times New Roman',serif" font-weight="bold" font-size="46">DA</text>
<text transform="translate(1523.0,1974.0) scale(0.93,1) rotate(-50)" font-family="'Liberation Serif','Times New Roman',serif" font-weight="bold" font-size="46">BM</text>
<text transform="translate(1598.0,1972.0) scale(0.93,1) rotate(-50)" font-family="'Liberation Serif','Times New Roman',serif" font-weight="bold" font-size="46">TG</text>
<text transform="translate(1664.0,1970.0) scale(0.93,1) rotate(-50)" font-family="'Liberation Serif','Times New Roman',serif" font-weight="bold" font-size="46">TM</text>
<text transform="translate(1729.0,1971.0) scale(0.93,1) rotate(-50)" font-family="'Liberation Serif','Times New Roman',serif" font-weight="bold" font-size="46">NNA</text>
<text transform="translate(1802.0,1972.0) scale(0.93,1) rotate(-50)" font-family="'Liberation Serif','Times New Roman',serif" font-weight="bold" font-size="46">DRF</text>
<text transform="translate(1920,1964.1) scale(0.9,1)" text-anchor="middle" font-family="'Liberation Serif','Times New Roman',serif" font-weight="bold" font-size="51">M</text>
<text transform="translate(1987.1,1972.9) scale(0.93,1) rotate(-50)" font-family="'Liberation Serif','Times New Roman',serif" font-weight="bold" font-size="46">DA</text>
<text transform="translate(2069.5,1976.4) scale(0.93,1) rotate(-50)" font-family="'Liberation Serif','Times New Roman',serif" font-weight="bold" font-size="46">BM</text>
<text transform="translate(2144.9,1970.5) scale(0.93,1) rotate(-50)" font-family="'Liberation Serif','Times New Roman',serif" font-weight="bold" font-size="46">TG</text>
<text transform="translate(2211.0,1971.0) scale(0.93,1) rotate(-50)" font-family="'Liberation Serif','Times New Roman',serif" font-weight="bold" font-size="46">TM</text>
<text transform="translate(2274.6,1971.1) scale(0.93,1) rotate(-50)" font-family="'Liberation Serif','Times New Roman',serif" font-weight="bold" font-size="46">NNA</text>
<text transform="translate(2344.7,1974.6) scale(0.93,1) rotate(-50)" font-family="'Liberation Serif','Times New Roman',serif" font-weight="bold" font-size="46">DRF</text>
</svg>
</body></html>
